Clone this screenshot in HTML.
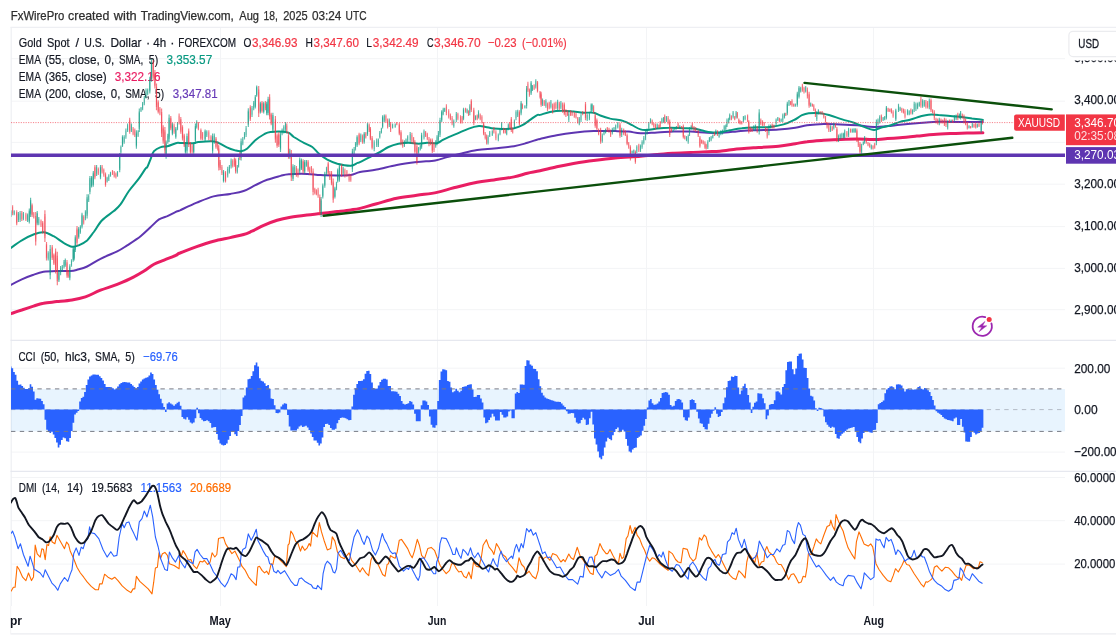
<!DOCTYPE html>
<html lang="en"><head><meta charset="utf-8"><title>XAUUSD chart</title>
<style>html,body{margin:0;padding:0;background:#fff;}body{width:1116px;height:639px;overflow:hidden;position:relative;font-family:"Liberation Sans", Arial, sans-serif;}svg{position:absolute;left:0;top:0;display:block;}text{font-family:"Liberation Sans", Arial, sans-serif;}</style>
</head><body>
<svg width="1116" height="639" viewBox="0 0 1116 639">
<rect width="1116" height="639" fill="#fff"/>
<g stroke="#f3f4f6" stroke-width="1" fill="none">
<path d="M11 58.7H1065"/>
<path d="M11 101.2H1065"/>
<path d="M11 142.4H1065"/>
<path d="M11 184.2H1065"/>
<path d="M11 226.6H1065"/>
<path d="M11 268.4H1065"/>
<path d="M11 309.7H1065"/>
<path d="M11 368.2H1065"/>
<path d="M11 452.1H1065"/>
<path d="M11 477.5H1065"/>
<path d="M11 520.7H1065"/>
<path d="M11 564.1H1065"/>
<path d="M220.5 27V606"/>
<path d="M437.5 27V606"/>
<path d="M646.5 27V606"/>
<path d="M873.5 27V606"/>
</g>
<g stroke="#eeeff3" stroke-width="1.2" fill="none">
<path d="M10.5 27.3H1116"/>
<path d="M11.2 27V606"/>
</g>
<g stroke="#e6e8ef" stroke-width="1.3" fill="none">
<path d="M10.5 340.3H1116"/>
<path d="M10.5 471.4H1116"/>
</g>
<path d="M10.5 633.9H1116" stroke="#ebecf0" stroke-width="1.3" fill="none"/>
<path d="M10.7 606V634" stroke="#f4f4f6" stroke-width="1" fill="none"/>
<rect x="11" y="389" width="1054" height="42.4" fill="#2196f3" fill-opacity="0.1"/>
<text y="47.3" font-size="12.70" fill="#131722" stroke-width="0.20"><tspan x="18.8" textLength="22.9" lengthAdjust="spacingAndGlyphs" stroke="#131722">Gold</tspan> <tspan x="47.0" textLength="22.6" lengthAdjust="spacingAndGlyphs" stroke="#131722">Spot</tspan> <tspan x="75.6" stroke="#131722">/</tspan> <tspan x="84.3" textLength="20.5" lengthAdjust="spacingAndGlyphs" stroke="#131722">U.S.</tspan> <tspan x="110.4" textLength="31.1" lengthAdjust="spacingAndGlyphs" stroke="#131722">Dollar</tspan> <tspan x="145.9" stroke="#131722">·</tspan> <tspan x="153.2" textLength="12.9" lengthAdjust="spacingAndGlyphs" stroke="#131722">4h</tspan> <tspan x="170.2" stroke="#131722">·</tspan> <tspan x="178.3" textLength="57.7" lengthAdjust="spacingAndGlyphs" stroke="#131722">FOREXCOM</tspan> <tspan x="243.5" textLength="7.9" lengthAdjust="spacingAndGlyphs" stroke="#131722">O</tspan><tspan x="252.0" textLength="45.5" lengthAdjust="spacingAndGlyphs" fill="#f23645" stroke="#f23645">3,346.93</tspan> <tspan x="305.4" textLength="7.4" lengthAdjust="spacingAndGlyphs" stroke="#131722">H</tspan><tspan x="313.6" textLength="45.4" lengthAdjust="spacingAndGlyphs" fill="#f23645" stroke="#f23645">3,347.60</tspan> <tspan x="366.3" textLength="5.7" lengthAdjust="spacingAndGlyphs" stroke="#131722">L</tspan><tspan x="372.8" textLength="45.8" lengthAdjust="spacingAndGlyphs" fill="#f23645" stroke="#f23645">3,342.49</tspan> <tspan x="426.9" textLength="6.6" lengthAdjust="spacingAndGlyphs" stroke="#131722">C</tspan><tspan x="434.0" textLength="46.6" lengthAdjust="spacingAndGlyphs" fill="#f23645" stroke="#f23645">3,346.70</tspan> <tspan x="487.8" textLength="28.7" lengthAdjust="spacingAndGlyphs" fill="#f23645" stroke="#f23645">−0.23</tspan> <tspan x="521.9" textLength="44.8" lengthAdjust="spacingAndGlyphs" fill="#f23645" stroke="#f23645">(−0.01%)</tspan></text>
<text y="64.4" font-size="12.70" fill="#131722" stroke-width="0.20"><tspan x="18.8" textLength="21.6" lengthAdjust="spacingAndGlyphs" stroke="#131722">EMA</tspan> <tspan x="44.9" textLength="19.7" lengthAdjust="spacingAndGlyphs" stroke="#131722">(55,</tspan> <tspan x="69.0" textLength="30.7" lengthAdjust="spacingAndGlyphs" stroke="#131722">close,</tspan> <tspan x="104.5" textLength="9.7" lengthAdjust="spacingAndGlyphs" stroke="#131722">0,</tspan> <tspan x="118.9" textLength="24.3" lengthAdjust="spacingAndGlyphs" stroke="#131722">SMA,</tspan> <tspan x="148.8" textLength="9.4" lengthAdjust="spacingAndGlyphs" stroke="#131722">5)</tspan> <tspan x="166.4" textLength="45.8" lengthAdjust="spacingAndGlyphs" fill="#089981" stroke="#089981">3,353.57</tspan></text>
<text y="81.0" font-size="12.70" fill="#131722" stroke-width="0.20"><tspan x="18.8" textLength="21.6" lengthAdjust="spacingAndGlyphs" stroke="#131722">EMA</tspan> <tspan x="44.9" textLength="26.0" lengthAdjust="spacingAndGlyphs" stroke="#131722">(365,</tspan> <tspan x="75.3" textLength="31.3" lengthAdjust="spacingAndGlyphs" stroke="#131722">close)</tspan> <tspan x="114.8" textLength="45.6" lengthAdjust="spacingAndGlyphs" fill="#e91e63" stroke="#e91e63">3,322.16</tspan></text>
<text y="97.8" font-size="12.70" fill="#131722" stroke-width="0.20"><tspan x="18.8" textLength="21.6" lengthAdjust="spacingAndGlyphs" stroke="#131722">EMA</tspan> <tspan x="44.9" textLength="26.0" lengthAdjust="spacingAndGlyphs" stroke="#131722">(200,</tspan> <tspan x="75.3" textLength="30.7" lengthAdjust="spacingAndGlyphs" stroke="#131722">close,</tspan> <tspan x="110.8" textLength="9.6" lengthAdjust="spacingAndGlyphs" stroke="#131722">0,</tspan> <tspan x="125.2" textLength="24.2" lengthAdjust="spacingAndGlyphs" stroke="#131722">SMA,</tspan> <tspan x="155.1" textLength="9.0" lengthAdjust="spacingAndGlyphs" stroke="#131722">5)</tspan> <tspan x="172.7" textLength="44.9" lengthAdjust="spacingAndGlyphs" fill="#673ab7" stroke="#673ab7">3,347.81</tspan></text>
<text y="361.0" font-size="12.70" fill="#131722" stroke-width="0.20"><tspan x="18.4" textLength="17.1" lengthAdjust="spacingAndGlyphs" stroke="#131722">CCI</tspan> <tspan x="40.7" textLength="18.7" lengthAdjust="spacingAndGlyphs" stroke="#131722">(50,</tspan> <tspan x="65.0" textLength="25.4" lengthAdjust="spacingAndGlyphs" stroke="#131722">hlc3,</tspan> <tspan x="95.1" textLength="25.1" lengthAdjust="spacingAndGlyphs" stroke="#131722">SMA,</tspan> <tspan x="125.2" textLength="9.6" lengthAdjust="spacingAndGlyphs" stroke="#131722">5)</tspan> <tspan x="143.1" textLength="34.7" lengthAdjust="spacingAndGlyphs" fill="#2962ff" stroke="#2962ff">−69.76</tspan></text>
<text y="491.8" font-size="12.70" fill="#131722" stroke-width="0.20"><tspan x="18.8" textLength="18.0" lengthAdjust="spacingAndGlyphs" stroke="#131722">DMI</tspan> <tspan x="41.9" textLength="18.0" lengthAdjust="spacingAndGlyphs" stroke="#131722">(14,</tspan> <tspan x="67.0" textLength="15.9" lengthAdjust="spacingAndGlyphs" stroke="#131722">14)</tspan> <tspan x="91.2" textLength="41.1" lengthAdjust="spacingAndGlyphs" stroke="#131722">19.5683</tspan> <tspan x="140.6" textLength="41.1" lengthAdjust="spacingAndGlyphs" fill="#2962ff" stroke="#2962ff">11.1563</tspan> <tspan x="190.0" textLength="41.1" lengthAdjust="spacingAndGlyphs" fill="#ff6d00" stroke="#ff6d00">20.6689</tspan></text>
<clipPath id="plot"><rect x="11" y="27" width="1054" height="579"/></clipPath>
<g clip-path="url(#plot)">
<path d="M10.9 313.7C12.7 313.0 18.0 311.2 21.8 310.0C25.5 308.7 29.9 307.2 33.5 306.1C37.1 305.0 39.6 304.0 43.5 303.3C47.4 302.5 52.2 302.2 56.9 301.6C61.7 301.1 67.2 300.7 72.0 299.9C76.7 299.2 80.6 298.5 85.4 296.9C90.1 295.3 95.1 292.3 100.5 290.2C105.8 288.1 111.6 286.6 117.2 284.4C122.8 282.1 129.5 279.1 133.9 276.8C138.4 274.6 140.6 273.1 144.0 271.0C147.3 268.9 150.7 266.1 154.0 264.3C157.4 262.5 160.4 261.6 164.1 260.1C167.7 258.6 173.1 256.6 175.8 255.4C178.4 254.2 176.5 254.4 180.0 253.0C183.5 251.5 191.2 248.6 196.7 246.6C202.3 244.6 207.9 242.7 213.5 241.2C219.1 239.7 225.2 238.7 230.2 237.6C235.2 236.4 240.0 235.6 243.6 234.5C247.2 233.5 248.6 232.7 252.0 231.2C255.3 229.7 259.5 227.2 263.7 225.3C267.9 223.5 272.6 221.7 277.1 220.3C281.6 219.0 285.5 218.2 290.5 217.3C295.5 216.4 302.2 215.6 307.2 215.0C312.3 214.3 315.6 214.2 320.6 213.6C325.7 213.1 332.3 212.2 337.4 211.6C342.4 211.0 347.0 210.5 350.8 209.9C354.5 209.4 355.7 209.4 360.0 208.4C364.3 207.3 370.6 205.3 376.7 203.7C382.9 202.0 390.1 199.7 396.8 198.3C403.5 196.9 410.2 196.3 416.9 195.3C423.6 194.3 430.9 193.7 437.0 192.4C443.2 191.2 447.1 189.5 453.8 187.8C460.5 186.1 470.5 183.5 477.2 182.2C483.9 180.9 487.8 180.8 493.9 179.9C500.1 179.0 508.4 178.0 514.0 176.9C519.6 175.8 523.1 174.2 527.4 173.2C531.7 172.2 535.1 171.9 540.0 170.8C544.9 169.7 551.2 168.0 556.7 166.8C562.3 165.5 567.3 164.5 573.5 163.4C579.6 162.4 586.6 161.3 593.6 160.4C600.5 159.5 607.5 158.6 615.3 157.9C623.2 157.2 633.5 156.8 640.5 156.2C647.4 155.7 651.6 155.0 657.2 154.5C662.8 154.0 668.4 153.6 673.9 153.2C679.5 152.8 685.1 152.6 690.7 152.4C696.3 152.1 702.5 151.9 707.4 151.7C712.3 151.5 715.1 151.6 720.0 151.2C724.9 150.8 731.2 149.6 736.7 149.0C742.3 148.5 746.5 148.3 753.5 147.8C760.5 147.4 771.6 146.9 778.6 146.2C785.6 145.5 790.6 144.4 795.3 143.7C800.1 142.9 802.3 142.2 807.1 141.7C811.8 141.1 818.2 140.7 823.8 140.3C829.4 140.0 835.0 139.7 840.5 139.5C846.1 139.3 851.7 139.1 857.3 139.1C862.9 139.1 869.0 139.6 874.0 139.5C879.0 139.4 883.1 138.9 887.4 138.6C891.7 138.4 895.1 138.2 900.0 137.8C904.9 137.4 911.2 136.7 916.7 136.1C922.3 135.6 927.9 134.9 933.5 134.5C939.1 134.0 944.6 133.8 950.2 133.6C955.8 133.4 961.5 133.3 967.0 133.1C972.4 133.0 980.2 132.8 982.9 132.8" stroke="#e91e63" stroke-width="3" fill="none" stroke-linejoin="round" stroke-linecap="round"/>
<path d="M10.9 284.9C12.7 283.9 18.0 281.0 21.8 279.3C25.5 277.6 29.9 275.9 33.5 274.7C37.1 273.4 39.6 272.4 43.5 271.8C47.4 271.2 52.5 271.1 56.9 271.0C61.4 270.8 67.0 271.2 70.3 271.0C73.7 270.8 74.2 270.6 77.0 269.8C79.8 269.0 83.2 268.3 87.1 266.5C91.0 264.6 95.4 261.3 100.5 258.8C105.5 256.2 112.7 253.6 117.2 251.4C121.7 249.2 123.3 247.9 127.2 245.4C131.1 242.8 136.7 239.2 140.6 236.2C144.5 233.1 147.6 229.8 150.7 227.0C153.7 224.2 156.3 221.2 159.0 219.4C161.8 217.6 164.6 217.3 167.4 216.1C170.2 214.8 173.7 212.9 175.8 211.9C177.9 210.9 176.5 211.8 180.0 210.3C183.5 208.7 191.2 205.1 196.7 202.7C202.3 200.4 207.9 197.9 213.5 196.4C219.1 194.9 225.2 194.8 230.2 193.9C235.2 193.0 239.4 192.5 243.6 191.0C247.8 189.6 251.4 187.0 255.3 185.2C259.2 183.3 262.9 181.3 267.1 179.8C271.2 178.3 276.8 176.9 280.5 175.9C284.1 175.0 284.4 174.6 288.8 174.3C293.3 173.9 301.9 173.8 307.2 173.9C312.5 174.1 315.6 174.9 320.6 175.1C325.7 175.4 332.3 175.4 337.4 175.4C342.4 175.4 347.0 175.7 350.8 175.1C354.5 174.6 355.7 173.0 360.0 172.1C364.3 171.2 370.6 170.8 376.7 169.6C382.9 168.4 390.1 166.3 396.8 165.1C403.5 163.8 410.5 162.9 416.9 162.1C423.3 161.3 430.3 161.2 435.3 160.4C440.4 159.6 442.9 158.2 447.1 157.1C451.2 155.9 455.4 154.9 460.5 153.7C465.5 152.5 471.6 150.9 477.2 150.0C482.8 149.1 487.8 149.0 493.9 148.4C500.1 147.7 508.4 147.1 514.0 146.2C519.6 145.3 523.5 143.9 527.4 142.8C531.3 141.7 535.4 140.1 537.5 139.5C539.6 138.8 536.8 139.7 540.0 139.0C543.2 138.3 551.2 136.3 556.7 135.3C562.3 134.3 567.3 133.5 573.5 132.8C579.6 132.1 586.6 131.4 593.6 131.1C600.5 130.8 609.5 131.0 615.3 131.1C621.2 131.2 624.5 131.2 628.7 131.6C632.9 132.0 635.7 133.1 640.5 133.3C645.2 133.4 651.6 132.7 657.2 132.4C662.8 132.2 668.4 131.7 673.9 131.6C679.5 131.5 685.1 131.4 690.7 131.6C696.3 131.8 702.5 132.6 707.4 132.8C712.3 133.0 715.1 133.0 720.0 132.8C724.9 132.6 731.2 131.9 736.7 131.4C742.3 131.0 746.5 130.6 753.5 130.3C760.5 129.9 771.6 129.9 778.6 129.4C785.6 129.0 790.6 128.5 795.3 127.8C800.1 127.1 802.3 125.9 807.1 125.2C811.8 124.6 818.2 124.0 823.8 123.9C829.4 123.8 835.0 124.2 840.5 124.4C846.1 124.6 851.7 124.8 857.3 125.2C862.9 125.7 869.0 126.8 874.0 126.9C879.0 127.1 883.1 126.4 887.4 126.1C891.7 125.7 895.1 125.2 900.0 124.7C904.9 124.3 911.2 123.7 916.7 123.2C922.3 122.8 927.9 122.1 933.5 121.9C939.1 121.7 944.6 121.9 950.2 121.9C955.8 121.9 961.5 121.9 967.0 121.9C972.4 121.9 980.2 121.9 982.9 121.9" stroke="#5e35b1" stroke-width="2" fill="none" stroke-linejoin="round" stroke-linecap="round"/>
<path d="M10.9 247.9C12.7 246.6 18.0 242.6 21.8 240.4C25.5 238.1 29.9 235.8 33.5 234.5C37.1 233.2 40.2 232.0 43.5 232.3C46.9 232.6 50.2 234.4 53.6 236.2C56.9 237.9 60.5 241.1 63.6 242.9C66.7 244.6 69.5 246.3 72.0 246.7C74.5 247.1 76.2 246.4 78.7 245.4C81.2 244.3 84.5 242.6 87.1 240.4C89.6 238.1 91.2 235.3 93.8 232.0C96.3 228.6 98.8 223.8 102.1 220.3C105.5 216.8 110.8 213.7 113.8 211.1C116.9 208.4 118.0 207.7 120.5 204.4C123.1 201.0 125.8 195.3 128.9 191.0C132.0 186.6 136.2 182.2 139.0 178.4C141.7 174.6 144.3 170.2 145.7 168.4C147.0 166.5 146.5 168.7 147.3 167.1C148.2 165.5 149.6 161.4 150.7 158.8C151.8 156.1 152.3 153.2 154.0 151.2C155.7 149.3 158.5 147.9 160.7 147.1C163.0 146.2 164.9 146.9 167.4 146.2C169.9 145.6 173.7 143.8 175.8 143.2C177.9 142.6 177.0 142.9 180.0 142.9C182.9 142.9 190.3 143.3 193.4 143.2C196.5 143.0 195.3 142.3 198.4 142.0C201.5 141.7 208.5 141.0 211.8 141.2C215.2 141.3 216.0 141.8 218.5 142.8C221.0 143.9 224.1 146.1 226.9 147.3C229.7 148.6 232.9 149.7 235.2 150.4C237.6 151.0 239.2 151.5 241.1 151.2C243.1 150.9 244.6 150.5 247.0 148.7C249.3 146.9 252.5 142.7 255.3 140.3C258.1 137.9 261.2 135.9 263.7 134.5C266.2 133.1 266.5 132.3 270.4 131.9C274.3 131.6 283.2 131.4 287.1 132.3C291.1 133.1 291.1 135.2 293.8 137.0C296.6 138.7 300.8 141.2 303.9 142.8C307.0 144.5 309.7 145.2 312.3 147.0C314.8 148.8 316.4 151.6 319.0 153.7C321.5 155.8 324.3 157.9 327.3 159.6C330.4 161.2 333.5 162.7 337.4 163.8C341.3 164.8 347.4 165.9 350.8 165.8C354.1 165.6 355.9 163.5 357.5 162.9C359.0 162.3 357.9 163.1 360.0 162.1C362.1 161.1 366.7 158.7 370.0 157.1C373.4 155.4 377.0 153.7 380.1 152.0C383.2 150.4 385.4 148.4 388.5 147.0C391.5 145.6 395.2 144.4 398.5 143.7C401.9 143.0 405.2 142.8 408.6 142.8C411.9 142.8 415.5 143.7 418.6 143.7C421.7 143.7 423.9 142.9 427.0 142.8C430.0 142.7 434.5 143.6 437.0 143.2C439.5 142.7 440.4 141.2 442.0 140.3C443.7 139.4 444.5 138.9 447.1 137.8C449.6 136.7 453.5 135.2 457.1 133.6C460.7 132.1 465.2 129.9 468.8 128.6C472.4 127.3 476.1 126.4 478.9 126.1C481.7 125.8 483.1 126.5 485.6 126.9C488.1 127.3 490.6 128.3 493.9 128.6C497.3 128.9 502.3 129.0 505.7 128.9C509.0 128.9 511.2 128.9 514.0 128.3C516.8 127.6 519.6 126.7 522.4 125.2C525.2 123.8 528.3 121.1 530.8 119.4C533.3 117.7 535.9 115.6 537.5 114.9C539.0 114.1 537.9 115.4 540.0 114.9C542.1 114.4 546.4 112.6 550.0 111.9C553.7 111.2 557.9 110.7 561.8 110.7C565.7 110.6 569.9 111.2 573.5 111.5C577.1 111.9 580.2 112.5 583.5 112.7C586.9 112.9 590.8 112.2 593.6 112.7C596.4 113.2 597.5 114.6 600.3 115.5C603.1 116.5 606.4 117.6 610.3 118.6C614.2 119.5 620.1 119.9 623.7 121.1C627.3 122.2 629.3 123.9 632.1 125.2C634.9 126.6 637.9 128.7 640.5 129.4C643.0 130.2 644.4 130.1 647.1 129.9C649.9 129.8 653.6 129.0 657.2 128.6C660.8 128.2 664.7 127.8 668.9 127.8C673.1 127.7 678.1 128.1 682.3 128.3C686.5 128.4 690.7 128.2 694.0 128.6C697.4 129.0 699.6 130.0 702.4 130.6C705.2 131.2 707.8 132.0 710.8 132.3C713.7 132.6 716.8 132.6 720.0 132.3C723.2 131.9 726.4 130.9 730.0 130.3C733.7 129.6 737.9 128.7 741.8 128.3C745.7 127.8 748.7 127.6 753.5 127.4C758.2 127.2 765.2 127.4 770.2 126.9C775.2 126.4 779.7 125.5 783.6 124.4C787.5 123.3 790.6 121.8 793.7 120.2C796.7 118.7 799.5 116.4 802.0 115.2C804.5 114.0 805.7 113.5 808.7 113.2C811.8 112.9 816.8 112.8 820.5 113.2C824.1 113.6 826.9 114.5 830.5 115.5C834.1 116.6 838.3 118.2 842.2 119.4C846.1 120.6 850.3 121.5 853.9 122.7C857.6 124.0 860.6 125.7 864.0 126.9C867.3 128.1 871.2 129.8 874.0 129.9C876.8 130.1 877.9 128.5 880.7 127.8C883.5 127.0 887.6 126.2 890.8 125.2C894.0 124.3 896.8 122.8 900.0 121.9C903.2 121.0 906.7 120.6 910.0 119.7C913.4 118.8 917.0 117.4 920.1 116.5C923.2 115.7 925.4 115.0 928.5 114.7C931.5 114.4 934.9 114.6 938.5 114.9C942.1 115.1 946.3 115.7 950.2 116.0C954.1 116.4 958.3 116.5 961.9 116.9C965.6 117.3 968.5 118.0 972.0 118.6C975.5 119.1 981.1 119.7 982.9 119.9" stroke="#089981" stroke-width="2" fill="none" stroke-linejoin="round" stroke-linecap="round"/>
<path d="M10.9 210.2V216.9M14.2 210.2V215.2M18.4 211.9V221.9M20.1 211.1V221.9M23.4 211.9V220.3M27.6 213.6V221.9M29.3 208.6V223.6M30.6 197.7V216.9M37.2 211.1V225.3M38.8 216.9V225.3M48.2 251.2V260.5M50.2 245.0V279.3M58.9 270.1V281.9M60.6 265.9V275.2M62.3 265.1V271.8M64.0 260.1V268.5M65.3 258.4V266.8M69.8 264.3V280.2M71.5 259.3V266.8M73.2 246.7V261.8M74.2 247.1V260.5M75.3 235.3V252.1M78.7 227.0V238.7M80.4 225.3V233.7M82.0 212.7V228.6M85.4 210.2V220.3M87.1 194.3V218.6M88.7 194.3V201.9M89.9 175.9V194.3M91.6 175.9V187.6M93.3 170.9V186.8M96.6 165.0V175.9M100.5 165.0V179.3M107.1 176.7V182.6M108.8 174.2V180.9M110.5 171.7V176.7M117.5 170.9V176.7M119.7 152.9V172.2M120.9 145.4V153.8M122.5 135.3V147.1M124.2 135.3V143.7M125.9 128.6V138.7M127.6 123.6V132.0M131.4 123.6V132.0M136.4 130.3V148.7M138.1 130.3V137.0M139.3 108.6V132.0M141.0 106.9V111.9M142.6 101.9V110.2M144.3 96.0V105.2M146.0 88.5V98.5M147.7 88.5V95.2M149.8 76.7V93.5M151.5 59.0V81.8M166.1 140.4V158.8M167.8 133.7V143.7M169.1 114.4V142.0M172.4 122.8V135.3M175.8 127.0V138.7M177.5 121.9V130.3M185.4 142.0V153.7M187.0 133.6V153.7M193.7 142.0V153.7M195.4 123.6V143.7M196.7 120.2V128.6M205.1 129.4V141.2M206.8 130.3V137.0M212.6 133.6V153.7M214.3 133.6V143.7M223.5 170.1V182.6M227.7 166.7V177.6M229.4 165.1V173.4M231.1 158.4V168.4M237.3 165.1V173.4M238.6 157.5V167.6M241.1 138.6V160.4M242.8 137.0V145.3M244.5 131.9V139.5M246.1 126.1V137.0M248.3 108.2V126.9M252.0 106.0V116.9M253.7 101.0V110.2M255.3 95.1V108.5M256.7 85.4V96.8M260.4 101.8V113.5M263.7 101.8V113.5M266.7 101.8V115.2M268.1 96.8V115.2M272.9 112.7V132.8M280.5 131.9V152.0M282.1 128.6V135.3M283.8 125.2V133.6M285.5 121.9V131.1M289.8 148.7V158.7M293.0 164.2V181.0M294.7 165.1V175.1M299.7 157.5V173.4M301.4 158.4V170.1M304.7 160.0V173.4M306.4 160.0V166.7M321.1 196.9V217.0M322.8 183.5V198.6M324.8 171.8V187.7M326.5 166.7V175.1M334.9 186.8V198.6M336.5 181.8V190.2M337.7 168.4V182.6M339.4 164.2V181.8M343.2 166.7V175.1M352.4 148.7V172.1M354.1 147.0V157.1M355.5 142.0V150.4M357.1 135.3V147.0M360.8 133.6V142.0M364.2 131.9V143.7M367.5 122.7V136.1M374.2 140.3V151.2M376.7 138.6V147.0M378.4 138.6V147.0M379.8 131.1V138.6M381.4 127.8V133.6M382.6 115.2V128.6M384.3 114.4V121.9M389.3 118.6V126.9M392.6 123.6V128.6M395.2 123.6V127.8M404.4 140.3V147.0M406.0 138.6V143.7M407.7 135.3V142.0M410.2 131.9V142.0M418.6 147.0V153.7M420.3 144.5V150.4M421.6 132.8V148.7M424.0 129.4V139.5M435.7 140.3V147.8M437.0 135.3V145.3M438.4 131.1V142.0M440.0 117.7V137.0M441.7 110.2V121.9M443.2 107.7V115.2M444.7 107.7V111.9M453.8 119.4V127.8M456.3 111.9V121.9M463.5 107.7V120.2M467.1 108.5V113.5M469.8 104.3V115.2M475.5 115.2V120.2M478.5 110.2V118.6M488.1 135.3V144.5M489.7 131.1V137.0M492.3 130.3V136.1M498.3 133.6V141.2M500.0 128.6V135.3M501.6 121.9V130.3M506.7 128.6V135.3M508.3 123.6V130.3M514.4 119.4V128.6M516.0 110.2V120.2M517.7 109.8V116.9M521.1 101.0V115.2M524.9 105.2V108.5M526.6 85.9V108.5M531.1 80.9V95.1M532.4 85.1V90.9M535.8 79.2V88.4M542.5 98.5V106.0M545.9 99.3V107.7M550.9 100.1V108.5M557.6 99.8V110.2M560.9 101.0V109.3M568.8 111.9V121.9M579.3 116.9V125.2M581.0 113.5V121.9M587.2 113.5V121.1M589.4 111.9V120.2M591.1 103.5V111.9M592.2 103.5V111.0M602.3 133.6V142.8M604.0 130.3V135.3M605.6 128.6V133.6M612.3 127.8V134.5M614.0 126.9V131.9M615.7 124.4V130.3M617.8 121.9V128.6M621.7 127.8V137.0M632.1 150.4V153.7M633.8 149.5V153.7M636.8 145.3V152.9M640.5 144.5V152.0M642.1 140.3V148.7M643.8 136.1V144.5M645.5 131.1V140.3M647.1 128.6V134.5M648.8 121.9V130.3M650.5 118.2V123.6M657.2 123.6V128.6M661.9 117.7V123.6M663.6 116.9V122.7M666.4 116.0V121.9M673.1 128.6V131.9M674.8 126.9V130.3M676.4 126.1V129.4M679.8 125.2V128.6M686.5 136.1V141.2M688.2 134.5V143.7M689.5 126.9V136.1M691.2 125.2V129.4M707.8 140.3V149.0M709.4 137.0V142.0M711.1 136.1V141.2M712.8 134.5V138.6M715.8 129.4V135.3M719.1 132.8V137.8M720.8 130.3V135.3M722.5 129.4V134.5M724.2 125.2V131.1M725.8 124.4V130.3M727.0 118.6V126.9M728.7 117.7V123.6M729.7 113.5V120.2M733.1 111.0V118.6M736.1 111.0V118.6M743.4 116.0V121.9M745.1 115.2V120.2M753.8 125.2V131.1M755.5 124.4V130.3M759.2 109.3V134.5M768.9 124.4V135.3M770.6 124.4V128.6M776.1 118.6V125.2M777.8 116.9V121.1M781.1 118.6V121.9M782.8 113.5V121.9M784.5 112.7V118.6M787.3 101.8V115.2M789.0 100.1V106.0M795.3 103.5V106.8M797.3 91.8V106.8M799.0 85.9V98.5M800.7 86.7V92.6M805.7 85.9V92.6M810.7 102.6V106.8M816.8 111.0V121.1M818.4 109.3V114.4M830.5 125.2V131.9M833.8 122.7V129.4M838.5 134.5V142.0M840.2 133.6V139.5M841.9 132.8V138.6M843.6 132.8V138.6M844.7 129.4V138.6M848.6 127.8V137.0M852.3 128.6V132.8M853.9 128.3V132.8M855.3 128.3V132.8M861.6 143.7V153.7M863.3 141.2V145.3M864.6 136.1V143.7M871.3 144.5V149.5M876.4 119.4V145.3M878.0 118.6V125.2M879.7 115.2V123.6M883.1 116.9V121.1M884.7 116.0V120.2M886.4 106.0V119.4M895.8 108.8V121.1M898.5 103.8V111.9M900.1 106.8V111.0M907.5 109.3V115.2M909.2 110.2V115.2M912.6 109.3V114.4M914.2 101.8V111.9M915.9 102.6V111.0M917.6 102.6V109.3M919.3 101.8V106.8M922.6 99.3V107.7M924.3 100.1V106.8M929.3 98.5V109.3M939.3 117.7V125.2M947.7 120.2V129.4M951.1 119.4V122.7M954.4 115.2V121.1M956.1 114.4V120.2M959.4 113.5V118.6M960.6 111.0V119.4M969.0 125.2V128.6M972.3 122.7V127.8M977.3 123.6V127.8M981.2 120.2V132.8" stroke="#089981" stroke-width="1.15" stroke-opacity="0.66" fill="none"/>
<path d="M12.6 205.2V215.2M16.7 210.2V225.3M21.8 211.1V221.1M25.9 212.7V221.1M32.1 203.5V216.9M33.8 211.9V218.6M35.7 211.9V245.4M41.0 219.4V227.0M42.7 221.1V233.7M44.9 210.2V242.0M46.5 242.0V260.5M52.2 245.0V260.1M53.9 253.4V265.1M55.6 248.4V273.5M57.3 251.7V285.2M67.0 260.1V277.7M68.3 270.1V277.7M77.0 226.1V245.4M83.7 215.2V224.5M94.9 165.0V179.3M98.3 167.5V175.1M102.1 165.0V173.4M103.8 168.4V176.7M105.5 172.6V186.8M112.5 170.0V175.1M114.2 170.9V177.6M115.9 172.6V178.4M129.7 117.8V133.7M133.1 127.0V135.3M134.8 128.6V137.0M153.2 60.0V80.1M154.9 70.0V88.5M156.5 83.4V110.2M158.2 100.2V113.6M159.9 106.9V115.2M161.6 108.6V137.0M163.2 125.3V143.7M164.9 127.0V153.8M170.8 116.1V130.3M174.1 123.6V133.7M179.1 113.6V124.5M180.8 116.9V133.7M182.5 125.3V140.4M184.2 133.7V147.1M188.7 128.6V147.0M190.4 142.0V153.7M192.1 143.7V153.7M198.4 121.9V130.3M200.9 128.6V140.3M202.6 131.9V140.3M208.8 130.3V140.3M211.0 135.3V142.0M216.0 137.0V148.7M217.7 142.0V150.4M218.8 145.3V170.5M220.2 160.0V170.1M221.9 165.1V175.1M225.5 170.9V182.6M232.7 159.2V167.6M234.4 157.5V166.7M235.6 158.4V173.4M239.9 151.7V160.0M250.3 105.2V121.1M258.7 85.9V116.9M262.0 101.0V112.7M265.4 101.0V110.2M269.6 94.3V119.4M271.2 112.7V125.2M275.4 116.0V142.8M277.1 133.6V147.8M278.8 131.9V147.0M286.8 123.6V133.6M288.5 131.9V158.7M291.3 150.0V181.0M296.4 165.9V176.8M298.0 168.4V177.6M303.1 159.2V173.4M308.1 160.0V171.8M309.7 166.7V175.1M311.4 165.9V173.4M313.1 168.4V195.2M314.8 187.7V194.4M316.4 189.3V195.2M318.1 187.7V197.7M319.8 194.4V215.3M328.2 161.7V175.1M329.8 170.9V180.1M331.5 170.9V185.2M333.2 178.5V202.7M341.6 164.2V176.8M344.9 168.4V177.6M346.9 170.1V176.8M349.1 173.4V181.8M350.8 174.3V181.8M359.1 132.8V145.3M362.5 134.5V143.7M365.8 131.9V138.6M369.2 123.6V131.9M370.4 126.9V140.3M372.1 136.1V149.5M385.9 114.4V122.7M387.6 118.6V128.6M390.6 121.9V131.9M396.8 121.9V125.2M399.3 122.7V135.3M401.0 130.3V145.3M402.7 139.5V147.8M411.9 132.8V143.7M413.6 137.0V143.7M414.9 140.3V153.7M416.9 143.7V164.6M425.6 131.1V137.0M427.3 132.8V140.3M429.0 137.0V146.2M430.6 138.6V145.3M432.3 138.6V152.9M434.0 142.0V152.0M446.4 104.3V115.2M448.7 109.3V118.6M450.4 113.5V120.2M452.1 116.0V125.2M457.9 112.7V120.2M460.5 115.2V123.6M462.1 116.0V123.6M465.5 107.7V112.7M468.5 110.2V116.0M471.3 99.3V111.9M473.8 107.7V125.2M477.2 114.4V120.2M480.2 113.5V120.2M481.9 115.2V123.6M483.6 121.9V135.3M485.2 131.9V139.5M486.6 134.5V144.5M493.9 126.9V133.6M495.9 130.3V140.3M503.6 127.8V133.6M505.3 128.6V133.6M509.8 121.9V128.6M511.3 116.9V131.9M512.7 127.8V133.6M519.4 110.2V125.2M522.4 103.5V109.3M527.9 81.7V91.8M529.4 88.4V96.8M534.1 84.2V90.1M537.5 80.9V92.6M540.0 90.9V98.5M541.1 91.8V106.8M544.2 100.1V106.0M547.5 102.6V111.0M549.2 101.8V109.3M552.6 103.5V113.5M554.2 102.6V110.2M555.9 101.8V109.3M559.3 101.8V110.2M562.6 102.6V112.7M564.3 102.6V115.2M565.9 109.3V116.9M567.6 110.2V116.0M570.5 110.2V116.0M572.1 111.0V116.0M574.3 111.9V117.7M576.0 112.7V118.6M577.7 116.9V123.6M582.7 111.0V115.2M585.5 102.1V120.2M593.6 105.2V113.5M595.2 113.5V127.8M596.9 118.6V130.3M598.6 128.6V135.3M600.6 127.8V143.7M607.3 126.9V131.9M609.0 127.8V132.8M610.6 129.4V137.0M620.0 122.7V137.8M623.7 128.6V135.3M625.4 130.3V136.1M627.1 133.6V145.3M628.7 142.0V148.7M630.4 145.3V160.4M635.4 150.4V163.8M638.8 143.7V152.0M652.2 119.4V125.2M653.8 122.7V127.8M655.5 123.6V129.4M658.9 124.4V128.6M660.2 121.1V127.8M664.7 114.4V123.6M668.1 116.0V124.4M669.7 119.4V137.0M671.4 127.8V131.9M678.1 122.7V128.6M681.5 126.1V128.6M683.3 124.4V138.6M684.8 135.3V139.5M692.3 122.7V128.6M694.0 126.1V131.1M695.7 126.9V131.9M698.2 129.4V137.0M699.9 136.1V147.8M701.6 139.5V143.7M703.2 140.3V144.5M704.9 141.2V148.7M706.2 143.7V149.5M714.4 131.9V136.1M717.5 130.3V136.1M731.4 115.2V120.2M734.7 116.0V120.2M737.4 111.9V118.6M738.8 118.6V123.6M740.1 120.2V124.4M741.8 121.1V124.4M747.6 114.4V121.9M748.8 120.2V133.6M750.5 126.9V131.9M752.1 127.8V131.9M757.2 126.1V132.8M760.8 118.6V125.2M762.5 120.2V126.1M764.2 121.9V126.1M765.5 126.9V131.9M767.2 127.8V138.6M772.2 123.6V128.6M773.9 124.4V128.6M779.4 117.7V121.9M785.8 112.7V116.0M790.6 101.0V105.2M792.0 99.3V106.8M793.7 103.5V106.8M802.4 83.7V91.8M804.0 86.7V93.4M807.4 87.6V98.5M809.1 91.8V107.7M812.4 103.5V106.8M813.8 104.3V111.0M815.4 108.5V116.9M820.1 111.0V114.4M822.1 111.0V114.4M823.8 112.7V118.6M825.5 116.0V122.7M827.1 121.9V128.6M828.8 123.6V131.9M832.2 126.1V131.1M835.5 123.6V127.8M836.9 126.9V142.0M846.9 131.1V137.0M850.6 128.6V132.8M856.9 128.6V142.0M858.3 138.6V147.0M860.0 142.0V153.7M866.3 137.8V143.7M868.0 142.0V146.2M869.7 142.8V147.8M873.0 145.3V149.5M874.7 142.8V148.7M881.4 114.4V121.9M888.1 107.7V111.9M889.8 108.5V111.9M891.4 108.2V113.5M893.1 110.2V117.7M901.8 107.7V112.7M903.5 108.5V113.5M905.0 109.3V118.6M910.9 108.5V114.4M920.9 96.8V107.7M925.9 100.1V108.5M927.6 101.0V108.5M931.0 98.5V111.9M932.6 109.3V113.5M934.3 110.2V120.2M936.0 117.7V123.6M937.7 118.6V124.4M941.0 118.6V123.6M942.7 119.4V123.6M944.4 117.7V126.1M946.0 118.6V126.9M949.4 119.4V122.7M952.7 119.4V122.7M957.8 112.7V120.2M962.3 113.5V118.6M964.0 114.4V123.6M965.6 118.6V125.2M967.3 121.9V129.4M970.6 126.1V128.6M974.0 123.6V127.8M975.7 122.7V128.6M979.0 122.7V126.9M982.5 120.2V124.4" stroke="#f23645" stroke-width="1.15" stroke-opacity="0.66" fill="none"/>
<path d="M10.9 211.6V215.6M14.2 211.2V214.2M18.4 213.9V219.9M20.1 213.2V219.8M23.4 213.6V218.6M27.6 215.2V220.3M29.3 211.6V220.6M30.6 201.5V213.1M37.2 213.9V222.4M38.8 218.6V223.6M48.2 253.1V258.6M50.2 251.9V272.5M58.9 272.5V279.5M60.6 267.8V273.3M62.3 266.5V270.5M64.0 261.8V266.8M65.3 260.1V265.1M69.8 267.5V277.0M71.5 260.8V265.3M73.2 249.7V258.8M74.2 249.7V257.8M75.3 238.7V248.7M78.7 229.3V236.3M80.4 227.0V232.0M82.0 215.9V225.5M85.4 212.2V218.3M87.1 199.2V213.7M88.7 195.8V200.3M89.9 179.6V190.6M91.6 178.2V185.3M93.3 174.1V183.6M96.6 167.2V173.7M100.5 167.9V176.4M107.1 177.9V181.4M108.8 175.6V179.6M110.5 172.7V175.7M117.5 172.1V175.6M119.7 156.8V168.3M120.9 147.1V152.1M122.5 137.7V144.7M124.2 137.0V142.0M125.9 130.6V136.7M127.6 125.3V130.3M131.4 125.3V130.3M136.4 134.0V145.0M138.1 131.7V135.7M139.3 113.2V127.3M141.0 107.9V110.9M142.6 103.5V108.6M144.3 97.8V103.4M146.0 90.5V96.5M147.7 89.8V93.8M149.8 80.1V90.1M151.5 63.5V77.2M166.1 144.0V155.1M167.8 135.7V141.7M169.1 119.9V136.5M172.4 125.3V132.8M175.8 129.3V136.3M177.5 123.6V128.6M185.4 144.3V151.4M187.0 137.6V149.7M193.7 144.3V151.4M195.4 127.6V139.6M196.7 121.9V126.9M205.1 131.8V138.8M206.8 131.6V135.6M212.6 137.6V149.7M214.3 135.6V141.7M223.5 172.6V180.1M227.7 168.9V175.4M229.4 166.7V171.8M231.1 160.4V166.4M237.3 166.7V171.8M238.6 159.5V165.6M241.1 143.0V156.1M242.8 138.6V143.7M244.5 133.5V138.0M246.1 128.3V134.8M248.3 111.9V123.2M252.0 108.2V114.7M253.7 102.8V108.3M255.3 97.8V105.8M256.7 87.7V94.5M260.4 104.2V111.2M263.7 104.2V111.2M266.7 104.5V112.5M268.1 100.5V111.5M272.9 116.7V128.8M280.5 136.0V148.0M282.1 129.9V134.0M283.8 126.9V131.9M285.5 123.7V129.3M289.8 150.7V156.7M293.0 167.6V177.6M294.7 167.1V173.1M299.7 160.7V170.3M301.4 160.7V167.7M304.7 162.7V170.8M306.4 161.4V165.4M321.1 200.9V212.9M322.8 186.5V195.5M324.8 174.9V184.5M326.5 168.4V173.4M334.9 189.2V196.2M336.5 183.5V188.5M337.7 171.3V179.8M339.4 167.7V178.3M343.2 168.4V173.4M352.4 153.4V167.4M354.1 149.0V155.0M355.5 143.7V148.7M357.1 137.6V144.7M360.8 135.3V140.3M364.2 134.3V141.3M367.5 125.4V133.5M374.2 142.5V149.0M376.7 140.3V145.3M378.4 140.3V145.3M379.8 132.6V137.1M381.4 128.9V132.4M382.6 117.9V125.9M384.3 115.9V120.4M389.3 120.2V125.2M392.6 124.6V127.6M395.2 124.4V126.9M404.4 141.7V145.7M406.0 139.6V142.7M407.7 136.6V140.6M410.2 134.0V140.0M418.6 148.4V152.4M420.3 145.7V149.2M421.6 136.0V145.5M424.0 131.4V137.5M435.7 141.8V146.3M437.0 137.3V143.3M438.4 133.3V139.8M440.0 121.6V133.1M441.7 112.5V119.6M443.2 109.2V113.7M444.7 108.5V111.0M453.8 121.1V126.1M456.3 113.9V119.9M463.5 110.2V117.7M467.1 109.5V112.5M469.8 106.5V113.0M475.5 116.2V119.2M478.5 111.9V116.9M488.1 137.1V142.7M489.7 132.3V135.8M492.3 131.4V135.0M498.3 135.1V139.6M500.0 129.9V134.0M501.6 123.6V128.6M506.7 129.9V134.0M508.3 124.9V128.9M514.4 121.2V126.8M516.0 112.2V118.2M517.7 111.3V115.5M521.1 103.8V112.4M524.9 105.8V107.8M526.6 90.4V104.0M531.1 83.7V92.3M532.4 86.2V89.8M535.8 81.0V86.6M542.5 100.0V104.5M545.9 101.0V106.0M550.9 101.8V106.8M557.6 101.9V108.1M560.9 102.6V107.7M568.8 113.9V119.9M579.3 118.6V123.6M581.0 115.2V120.2M587.2 115.0V119.6M589.4 113.5V118.6M591.1 105.2V110.2M592.2 105.0V109.5M602.3 135.5V141.0M604.0 131.3V134.3M605.6 129.6V132.6M612.3 129.1V133.1M614.0 127.9V130.9M615.7 125.6V129.1M617.8 123.2V127.3M621.7 129.6V135.1M632.1 151.0V153.0M633.8 150.4V152.9M636.8 146.8V151.4M640.5 146.0V150.5M642.1 142.0V147.0M643.8 137.8V142.8M645.5 132.9V138.5M647.1 129.8V133.3M648.8 123.6V128.6M650.5 119.3V122.5M657.2 124.6V127.6M661.9 118.9V122.4M663.6 118.0V121.6M666.4 117.2V120.7M673.1 129.3V131.3M674.8 127.6V129.6M676.4 126.8V128.8M679.8 125.9V127.9M686.5 137.1V140.1M688.2 136.3V141.8M689.5 128.8V134.3M691.2 126.1V128.6M707.8 142.1V147.3M709.4 138.0V141.0M711.1 137.1V140.1M712.8 135.3V137.8M715.8 130.6V134.1M719.1 133.8V136.8M720.8 131.3V134.3M722.5 130.4V133.5M724.2 126.4V129.9M725.8 125.6V129.1M727.0 120.2V125.2M728.7 118.9V122.4M729.7 114.9V118.9M733.1 112.5V117.0M736.1 112.5V117.0M743.4 117.2V120.7M745.1 116.2V119.2M753.8 126.4V129.9M755.5 125.6V129.1M759.2 114.4V129.4M768.9 126.6V133.1M770.6 125.2V127.8M776.1 119.9V123.9M777.8 117.7V120.2M781.1 119.2V121.2M782.8 115.2V120.2M784.5 113.9V117.4M787.3 104.5V112.5M789.0 101.3V104.8M795.3 104.2V106.2M797.3 94.8V103.8M799.0 88.4V95.9M800.7 87.9V91.4M805.7 87.2V91.3M810.7 103.5V106.0M816.8 113.0V119.1M818.4 110.3V113.4M830.5 126.6V130.6M833.8 124.1V128.1M838.5 136.0V140.5M840.2 134.8V138.3M841.9 134.0V137.5M843.6 134.0V137.5M844.7 131.3V136.8M848.6 129.6V135.1M852.3 129.4V131.9M853.9 129.2V131.9M855.3 129.2V131.9M861.6 145.7V151.7M863.3 142.0V144.5M864.6 137.6V142.2M871.3 145.5V148.5M876.4 124.6V140.1M878.0 119.9V123.9M879.7 116.9V121.9M883.1 117.7V120.2M884.7 116.9V119.4M886.4 108.7V116.7M895.8 111.3V118.6M898.5 105.4V110.2M900.1 107.7V110.2M907.5 110.5V114.0M909.2 111.2V114.2M912.6 110.3V113.4M914.2 103.8V109.8M915.9 104.3V109.3M917.6 104.0V108.0M919.3 102.8V105.8M922.6 101.0V106.0M924.3 101.5V105.5M929.3 100.6V107.2M939.3 119.2V123.7M947.7 122.1V127.6M951.1 120.1V122.1M954.4 116.4V119.9M956.1 115.5V119.1M959.4 114.5V117.5M960.6 112.7V117.7M969.0 125.9V127.9M972.3 123.7V126.8M977.3 124.4V126.9M981.2 122.7V130.3" stroke="#089981" stroke-width="1.0" stroke-opacity="0.3" fill="none"/>
<path d="M12.6 207.2V213.2M16.7 213.2V222.3M21.8 213.1V219.1M25.9 214.4V219.4M32.1 206.2V214.2M33.8 213.2V217.3M35.7 218.6V238.7M41.0 220.9V225.5M42.7 223.6V231.2M44.9 216.6V235.7M46.5 245.7V256.8M52.2 248.0V257.1M53.9 255.7V262.8M55.6 253.4V268.5M57.3 258.4V278.5M67.0 263.6V274.2M68.3 271.6V276.2M77.0 230.0V241.5M83.7 217.1V222.6M94.9 167.9V176.4M98.3 169.0V173.6M102.1 166.7V171.7M103.8 170.0V175.1M105.5 175.4V183.9M112.5 171.0V174.1M114.2 172.2V176.2M115.9 173.7V177.2M129.7 120.9V130.5M133.1 128.6V133.7M134.8 130.3V135.3M153.2 64.0V76.1M154.9 73.7V84.8M156.5 88.8V104.9M158.2 102.9V110.9M159.9 108.6V113.6M161.6 114.2V131.3M163.2 129.0V140.0M164.9 132.3V148.4M170.8 118.9V127.5M174.1 125.6V131.7M179.1 115.7V122.3M180.8 120.3V130.3M182.5 128.3V137.3M184.2 136.3V144.4M188.7 132.3V143.3M190.4 144.3V151.4M192.1 145.7V151.7M198.4 123.6V128.6M200.9 130.9V138.0M202.6 133.6V138.6M208.8 132.3V138.3M211.0 136.6V140.6M216.0 139.3V146.3M217.7 143.7V148.7M218.8 150.4V165.4M220.2 162.1V168.1M221.9 167.1V173.1M225.5 173.3V180.3M232.7 160.9V165.9M234.4 159.4V164.9M235.6 161.4V170.4M239.9 153.3V158.4M250.3 108.3V117.9M258.7 92.1V110.7M262.0 103.3V110.3M265.4 102.8V108.3M269.6 99.3V114.4M271.2 115.2V122.7M275.4 121.4V137.5M277.1 136.5V145.0M278.8 135.0V144.0M286.8 125.6V131.6M288.5 137.3V153.4M291.3 156.2V174.8M296.4 168.1V174.6M298.0 170.3V175.8M303.1 162.1V170.6M308.1 162.4V169.4M309.7 168.4V173.4M311.4 167.4V171.9M313.1 173.8V189.8M314.8 189.0V193.0M316.4 190.5V194.0M318.1 189.7V195.7M319.8 198.6V211.1M328.2 164.4V172.4M329.8 172.8V178.3M331.5 173.8V182.3M333.2 183.3V197.9M341.6 166.7V174.3M344.9 170.3V175.8M346.9 171.4V175.4M349.1 175.1V180.1M350.8 175.8V180.3M359.1 135.3V142.8M362.5 136.3V141.8M365.8 133.3V137.3M369.2 125.2V130.3M370.4 129.6V137.6M372.1 138.8V146.8M385.9 116.0V121.1M387.6 120.6V126.6M390.6 123.9V129.9M396.8 122.6V124.6M399.3 125.2V132.8M401.0 133.3V142.3M402.7 141.2V146.2M411.9 135.0V141.5M413.6 138.3V142.3M414.9 143.0V151.0M416.9 147.8V160.4M425.6 132.3V135.8M427.3 134.3V138.8M429.0 138.8V144.3M430.6 140.0V144.0M432.3 141.5V150.0M434.0 144.0V150.0M446.4 106.5V113.0M448.7 111.2V116.7M450.4 114.9V118.9M452.1 117.9V123.4M457.9 114.2V118.7M460.5 116.9V121.9M462.1 117.5V122.1M465.5 108.7V111.7M468.5 111.4V114.9M471.3 101.8V109.3M473.8 111.2V121.7M477.2 115.5V119.1M480.2 114.9V118.9M481.9 116.9V121.9M483.6 124.6V132.6M485.2 133.5V138.0M486.6 136.5V142.5M493.9 128.3V132.3M495.9 132.3V138.3M503.6 128.9V132.4M505.3 129.6V132.6M509.8 123.2V127.3M511.3 119.9V128.9M512.7 128.9V132.4M519.4 113.2V122.2M522.4 104.7V108.2M527.9 83.7V89.8M529.4 90.1V95.1M534.1 85.4V88.9M537.5 83.2V90.3M540.0 92.4V97.0M541.1 94.8V103.8M544.2 101.3V104.8M547.5 104.3V109.3M549.2 103.3V107.8M552.6 105.5V111.5M554.2 104.2V108.7M555.9 103.3V107.8M559.3 103.5V108.5M562.6 104.7V110.7M564.3 105.2V112.7M565.9 110.8V115.4M567.6 111.4V114.9M570.5 111.4V114.9M572.1 112.0V115.0M574.3 113.0V116.5M576.0 113.9V117.4M577.7 118.2V122.2M582.7 111.9V114.4M585.5 105.8V116.6M593.6 106.8V111.9M595.2 116.4V124.9M596.9 120.9V127.9M598.6 129.9V134.0M600.6 130.9V140.5M607.3 127.9V130.9M609.0 128.8V131.8M610.6 130.9V135.5M620.0 125.7V134.8M623.7 129.9V134.0M625.4 131.4V135.0M627.1 136.0V143.0M628.7 143.3V147.3M630.4 148.4V157.4M635.4 153.0V161.1M638.8 145.3V150.4M652.2 120.6V124.1M653.8 123.7V126.8M655.5 124.7V128.3M658.9 125.2V127.8M660.2 122.4V126.4M664.7 116.2V121.7M668.1 117.7V122.7M669.7 122.9V133.5M671.4 128.6V131.1M678.1 123.9V127.4M681.5 126.6V128.1M683.3 127.3V135.8M684.8 136.1V138.6M692.3 123.9V127.4M694.0 127.1V130.1M695.7 127.9V130.9M698.2 130.9V135.5M699.9 138.5V145.5M701.6 140.3V142.8M703.2 141.2V143.7M704.9 142.7V147.2M706.2 144.8V148.4M714.4 132.8V135.3M717.5 131.4V135.0M731.4 116.2V119.2M734.7 116.9V119.4M737.4 113.2V117.2M738.8 119.6V122.6M740.1 121.1V123.6M741.8 121.7V123.7M747.6 115.9V120.4M748.8 122.9V130.9M750.5 127.9V130.9M752.1 128.6V131.1M757.2 127.4V131.4M760.8 119.9V123.9M762.5 121.4V124.9M764.2 122.7V125.2M765.5 127.9V130.9M767.2 129.9V136.5M772.2 124.6V127.6M773.9 125.2V127.8M779.4 118.6V121.1M785.8 113.4V115.4M790.6 101.8V104.3M792.0 100.8V105.3M793.7 104.2V106.2M802.4 85.3V90.2M804.0 88.1V92.1M807.4 89.8V96.3M809.1 94.9V104.5M812.4 104.2V106.2M813.8 105.7V109.7M815.4 110.2V115.2M820.1 111.7V113.7M822.1 111.7V113.7M823.8 113.9V117.4M825.5 117.4V121.4M827.1 123.2V127.3M828.8 125.2V130.3M832.2 127.1V130.1M835.5 124.4V126.9M836.9 129.9V139.0M846.9 132.3V135.8M850.6 129.4V131.9M856.9 131.3V139.3M858.3 140.3V145.3M860.0 144.3V151.4M866.3 139.0V142.5M868.0 142.8V145.3M869.7 143.8V146.8M873.0 146.2V148.7M874.7 144.0V147.5M881.4 115.9V120.4M888.1 108.5V111.0M889.8 109.2V111.2M891.4 109.2V112.5M893.1 111.7V116.2M901.8 108.7V111.7M903.5 109.5V112.5M905.0 111.2V116.7M910.9 109.7V113.2M920.9 99.0V105.5M925.9 101.8V106.8M927.6 102.5V107.0M931.0 101.1V109.2M932.6 110.2V112.7M934.3 112.2V118.2M936.0 118.9V122.4M937.7 119.7V123.2M941.0 119.6V122.6M942.7 120.2V122.7M944.4 119.4V124.4M946.0 120.2V125.2M949.4 120.1V122.1M952.7 120.1V122.1M957.8 114.2V118.7M962.3 114.5V117.5M964.0 116.2V121.7M965.6 119.9V123.9M967.3 123.4V127.9M970.6 126.6V128.1M974.0 124.4V126.9M975.7 123.9V127.4M979.0 123.6V126.1M982.5 121.1V123.6" stroke="#f23645" stroke-width="1.0" stroke-opacity="0.3" fill="none"/>
<path d="M29.3 210.4V221.8M30.6 200.0V214.6M37.2 212.8V223.6M50.2 249.1V275.2M58.9 271.5V280.4M69.8 266.2V278.3M73.2 248.5V260.0M74.2 248.7V258.8M75.3 237.3V250.1M78.7 228.4V237.3M82.0 214.6V226.7M87.1 197.2V215.7M89.9 178.1V192.1M91.6 177.3V186.2M93.3 172.8V184.9M100.5 166.7V177.5M119.7 155.2V169.9M122.5 136.7V145.7M136.4 132.5V146.5M139.3 111.4V129.2M149.8 78.8V91.5M151.5 61.7V79.0M166.1 142.6V156.6M169.1 117.7V138.7M172.4 124.3V133.8M175.8 128.4V137.3M185.4 143.4V152.3M187.0 136.0V151.3M193.7 143.4V152.3M195.4 126.0V141.3M205.1 130.8V139.7M212.6 136.0V151.3M223.5 171.6V181.1M241.1 141.3V157.8M248.3 110.4V124.7M255.3 96.7V106.9M256.7 86.8V95.4M260.4 103.2V112.1M263.7 103.2V112.1M266.7 103.4V113.6M268.1 99.0V113.0M272.9 115.1V130.4M280.5 134.4V149.6M293.0 166.2V179.0M299.7 159.4V171.5M301.4 159.8V168.7M304.7 161.7V171.8M321.1 199.3V214.6M322.8 185.3V196.7M324.8 173.7V185.8M334.9 188.2V197.1M337.7 170.1V180.9M339.4 166.3V179.7M352.4 151.5V169.3M357.1 136.7V145.6M364.2 133.4V142.3M367.5 124.3V134.5M382.6 116.8V127.0M421.6 134.7V146.8M440.0 120.0V134.7M441.7 111.6V120.5M463.5 109.2V118.7M521.1 102.7V113.5M526.6 88.6V105.8M531.1 82.6V93.4M759.2 112.4V131.4M787.3 103.4V113.6M797.3 93.6V105.0M799.0 87.4V97.0M876.4 122.5V142.2M886.4 107.6V117.8M895.8 110.3V119.6M981.2 121.7V131.3" stroke="#089981" stroke-width="1.3" stroke-opacity="0.4" fill="none"/>
<path d="M16.7 212.0V223.5M32.1 205.1V215.3M35.7 215.9V241.4M42.7 222.6V232.2M44.9 214.0V238.2M46.5 244.2V258.2M52.2 246.8V258.3M53.9 254.8V263.7M55.6 251.4V270.5M57.3 255.7V281.2M67.0 262.2V275.6M77.0 228.4V243.1M94.9 166.7V177.5M105.5 174.3V185.1M129.7 119.7V131.8M153.2 62.4V77.7M154.9 72.3V86.3M156.5 86.7V107.0M158.2 101.8V112.0M161.6 112.0V133.6M163.2 127.5V141.5M164.9 130.2V150.5M170.8 117.8V128.6M180.8 118.9V131.7M182.5 127.1V138.6M184.2 135.3V145.4M188.7 130.8V144.8M190.4 143.4V152.3M200.9 130.0V138.9M216.0 138.4V147.3M218.8 148.4V167.4M225.5 172.3V181.2M235.6 160.2V171.6M250.3 107.1V119.2M258.7 89.6V113.2M262.0 102.4V111.3M269.6 97.3V116.4M271.2 114.2V123.7M275.4 119.3V139.6M277.1 135.3V146.1M278.8 133.8V145.2M288.5 135.2V155.5M291.3 153.7V177.3M303.1 160.9V171.7M308.1 161.5V170.4M313.1 171.6V192.0M319.8 196.9V212.8M328.2 163.3V173.5M331.5 172.6V183.4M333.2 181.4V199.8M341.6 165.7V175.3M359.1 134.3V143.8M370.4 128.5V138.7M372.1 137.7V147.9M399.3 124.2V133.8M401.0 132.1V143.5M414.9 141.9V152.1M416.9 146.2V162.1M432.3 140.3V151.2M471.3 100.8V110.3M473.8 109.8V123.1M483.6 123.5V133.7M511.3 118.7V130.1M519.4 112.0V123.4M537.5 82.3V91.2M541.1 93.6V105.0M564.3 104.2V113.7M585.5 104.3V118.1M595.2 115.2V126.1M596.9 120.0V128.9M600.6 129.7V141.8M620.0 124.5V136.0M627.1 135.0V143.9M630.4 147.1V158.6M635.4 152.0V162.1M669.7 121.5V134.9M683.3 126.1V136.9M699.9 137.5V146.4M748.8 121.8V132.0M809.1 93.7V105.8M836.9 128.7V140.2M856.9 130.2V140.4M860.0 143.4V152.3M931.0 100.1V110.2" stroke="#f23645" stroke-width="1.3" stroke-opacity="0.4" fill="none"/>
<path d="M11 155.3H1065" stroke="#5e35b1" stroke-width="3.6" fill="none"/>
<path d="M323.6 215.8 L1012.3 137.8" stroke="#0b4f0b" stroke-width="2.4" fill="none" stroke-linecap="round"/>
<path d="M804.5 82.9 L1051.7 109.4" stroke="#0b4f0b" stroke-width="2.4" fill="none" stroke-linecap="round"/>
<path d="M11 122.6H1014" stroke="#f23645" stroke-width="1" stroke-opacity="0.62" stroke-dasharray="1.15 1.29" fill="none"/>
<g stroke="#787b86" stroke-width="1" fill="none" stroke-dasharray="4.395 4.395">
<path d="M11 409.6H1065" stroke-opacity="0.45"/>
</g>
<path d="M11.00 409.6V366.6H11.53V368.2H13.18V372.0H14.82V374.8H16.47V380.7H18.12V384.7H19.78V384.6H21.43V386.1H23.07V387.7H24.72V389.1H26.37V388.9H28.03V388.3H29.68V384.2H31.32V386.8H32.97V391.6H34.62V399.7H36.28V398.3H37.93V398.5H39.58V398.7H41.22V400.9H42.87V404.2H44.53V419.7H46.18V429.8H47.83V431.9H49.47V433.0H51.12V431.7H52.78V434.6H54.43V438.0H56.08V442.4H57.72V447.5H59.37V444.7H61.03V440.0H62.68V437.5H64.33V438.2H65.97V441.3H67.62V441.8H69.28V438.1H70.93V431.0H72.58V422.7H74.22V414.5H75.87V412.7H77.53V410.9H79.18V401.5H80.83V398.0H82.47V396.8H84.12V392.0H85.78V385.0H87.43V379.5H89.08V376.5H90.72V375.5H92.37V374.5H94.03V374.5H95.68V374.7H97.33V374.8H98.97V376.3H100.62V378.1H102.28V380.4H103.93V384.1H105.58V387.1H107.22V387.1H108.87V387.1H110.53V387.2H112.18V388.3H113.83V389.4H115.47V388.6H117.12V386.4H118.78V384.2H120.43V383.1H122.08V382.2H123.72V382.0H125.37V382.2H127.03V382.4H128.68V382.6H130.32V384.0H131.97V385.5H133.62V387.0H135.28V388.3H136.93V387.1H138.57V383.5H140.22V381.5H141.87V379.5H143.53V378.4H145.18V377.8H146.82V377.3H148.47V375.4H150.12V372.5H151.78V374.1H153.43V379.5H155.07V385.0H156.72V389.7H158.37V394.3H160.03V398.8H161.68V403.3H163.32V407.0H164.97V411.9H166.62V403.5H168.28V402.3H169.93V403.4H171.57V404.6H173.22V405.8H174.87V404.3H176.53V402.7H178.18V401.7H179.82V405.8H181.47V416.9H183.12V418.8H184.78V419.5H186.43V417.2H188.07V419.8H189.72V422.4H191.37V423.5H193.03V422.5H194.68V418.2H196.32V407.8H197.97V413.3H199.62V418.1H201.28V419.7H202.93V421.3H204.57V421.1H206.22V420.2H207.87V421.3H209.53V423.0H211.18V427.8H212.82V427.3H214.47V427.0H216.12V434.1H217.78V439.8H219.43V443.6H221.07V444.8H222.72V445.6H224.37V444.9H226.03V443.4H227.68V439.7H229.32V435.9H230.97V431.5H232.62V431.8H234.28V434.3H235.93V436.1H237.57V431.0H239.22V424.9H240.87V416.1H242.53V397.6H244.18V395.4H245.82V387.6H247.47V379.2H249.12V378.8H250.78V375.9H252.43V371.3H254.07V365.3H255.72V362.5H257.37V366.4H259.03V378.3H260.68V380.8H262.32V381.6H263.97V383.2H265.62V386.1H267.28V384.9H268.93V388.9H270.57V398.5H272.22V399.0H273.87V405.2H275.53V413.1H277.18V413.3H278.82V412.6H280.47V406.6H282.12V404.6H283.78V403.3H285.43V403.8H287.07V415.0H288.72V426.4H290.37V430.5H292.03V430.5H293.68V430.5H295.32V430.5H296.97V428.8H298.62V426.6H300.28V425.4H301.93V426.9H303.57V426.4H305.22V425.8H306.87V427.4H308.53V430.1H310.18V433.4H311.82V437.0H313.47V440.6H315.12V440.6H316.78V442.8H318.43V445.5H320.07V443.6H321.72V437.4H323.37V427.1H325.03V424.1H326.68V423.7H328.32V425.1H329.97V428.0H331.62V429.7H333.28V429.7H334.93V428.7H336.57V423.2H338.22V420.0H339.87V417.9H341.53V417.5H343.18V417.8H344.82V418.3H346.47V419.3H348.12V420.3H349.78V420.1H351.43V406.5H353.07V394.8H354.72V388.2H356.37V383.9H358.02V381.1H359.68V380.9H361.32V380.8H362.97V379.3H364.62V373.7H366.27V371.0H367.93V370.8H369.57V374.0H371.22V382.4H372.87V388.1H374.52V388.9H376.18V388.4H377.82V385.4H379.47V382.1H381.12V379.8H382.77V378.7H384.43V378.8H386.07V379.4H387.72V385.9H389.37V386.1H391.02V391.2H392.68V391.3H394.32V391.4H395.97V391.8H397.62V393.7H399.27V395.9H400.93V400.9H402.57V403.7H404.22V404.6H405.87V404.1H407.52V403.2H409.18V400.9H410.82V401.8H412.47V404.6H414.12V413.8H415.77V421.3H417.43V421.3H419.07V421.3H420.72V405.3H422.37V400.5H424.02V400.6H425.68V401.5H427.32V405.0H428.97V416.6H430.62V424.7H432.27V427.5H433.93V427.8H435.57V425.2H437.22V400.9H438.87V380.1H440.52V371.6H442.18V369.2H443.82V369.5H445.47V370.3H447.12V381.0H448.77V381.8H450.43V387.5H452.07V392.2H453.72V391.3H455.37V388.8H457.02V390.7H458.68V392.3H460.32V390.7H461.97V386.9H463.62V386.6H465.27V386.3H466.93V385.0H468.57V384.4H470.22V384.2H471.87V389.4H473.52V396.9H475.17V396.7H476.82V394.9H478.47V394.9H480.12V398.4H481.77V402.4H483.42V417.5H485.07V423.2H486.72V422.5H488.37V420.1H490.02V417.6H491.67V413.8H493.32V416.4H494.97V420.5H496.62V420.5H498.27V420.5H499.92V412.1H501.57V414.7H503.22V417.4H504.87V417.5H506.52V416.6H508.17V411.5H509.82V410.5H511.47V418.3H513.12V418.3H514.78V393.4H516.42V391.9H518.08V393.1H519.73V384.5H521.38V384.6H523.03V384.7H524.67V365.9H526.33V360.3H527.98V360.6H529.62V364.5H531.28V365.7H532.92V368.8H534.58V369.1H536.23V371.2H537.88V379.2H539.53V386.2H541.17V392.8H542.83V395.6H544.48V397.6H546.12V398.4H547.78V399.1H549.42V399.7H551.08V400.3H552.73V400.8H554.38V401.4H556.03V401.7H557.67V401.8H559.33V402.0H560.98V403.5H562.62V405.5H564.28V406.9H565.92V411.3H567.58V413.7H569.23V413.5H570.88V412.9H572.53V413.3H574.17V417.7H575.83V422.5H577.48V423.8H579.12V423.2H580.78V420.0H582.42V417.8H584.08V419.5H585.73V425.1H587.38V424.4H589.03V418.3H590.67V411.8H592.33V424.4H593.98V438.5H595.62V444.4H597.28V451.5H598.92V457.6H600.58V459.2H602.23V455.8H603.88V447.4H605.53V441.6H607.17V437.7H608.83V439.0H610.48V440.3H612.12V435.2H613.78V431.9H615.42V429.0H617.08V427.5H618.73V432.2H620.38V431.6H622.03V429.7H623.67V431.5H625.33V438.9H626.98V445.8H628.62V451.5H630.28V452.5H631.92V449.5H633.58V448.0H635.23V447.5H636.88V438.0H638.53V436.8H640.17V435.5H641.83V430.7H643.48V425.7H645.12V418.9H646.78V407.4H648.42V400.4H650.08V399.1H651.73V403.2H653.38V404.7H655.03V404.5H656.67V403.6H658.33V401.4H659.98V397.9H661.62V392.9H663.28V392.4H664.92V392.0H666.58V392.5H668.23V394.7H669.88V404.9H671.53V406.6H673.17V405.7H674.83V401.0H676.48V399.3H678.12V398.9H679.78V399.8H681.42V402.4H683.08V417.2H684.73V420.3H686.38V420.8H688.03V417.6H689.67V400.1H691.33V399.3H692.98V400.1H694.62V402.9H696.28V411.7H697.92V418.5H699.58V423.2H701.23V423.7H702.88V426.9H704.53V429.3H706.17V429.6H707.83V423.7H709.48V417.8H711.12V413.7H712.78V410.7H714.42V407.2H716.08V413.7H717.73V417.1H719.38V415.9H721.03V412.0H722.67V403.2H724.33V397.4H725.98V387.2H727.62V381.0H729.27V380.6H730.92V376.6H732.58V376.9H734.23V375.8H735.88V376.1H737.52V387.4H739.17V394.2H740.83V390.6H742.48V386.3H744.12V383.8H745.77V388.1H747.42V394.9H749.08V402.4H750.73V413.0H752.38V406.8H754.02V402.7H755.67V401.4H757.33V393.3H758.98V393.4H760.62V393.7H762.27V398.2H763.92V403.2H765.58V419.2H767.23V415.4H768.88V404.8H770.52V404.1H772.17V403.9H773.83V400.2H775.48V391.4H777.12V391.3H778.77V392.6H780.42V394.6H782.08V386.9H783.73V383.9H785.38V370.3H787.02V361.9H788.67V361.5H790.33V361.4H791.98V369.3H793.62V374.3H795.27V368.4H796.92V355.9H798.58V353.8H800.23V353.6H801.88V359.5H803.52V367.8H805.17V368.0H806.83V377.9H808.48V388.6H810.12V395.8H811.77V396.6H813.42V400.5H815.08V408.3H816.73V410.9H818.38V407.8H820.02V408.1H821.67V408.7H823.33V416.6H824.98V422.3H826.62V424.8H828.27V426.7H829.92V428.0H831.58V426.7H833.23V427.5H834.88V434.0H836.52V438.3H838.17V438.8H839.83V435.7H841.48V433.8H843.12V432.6H844.77V431.1H846.42V429.4H848.08V428.5H849.73V427.9H851.38V427.5H853.02V427.1H854.67V431.8H856.33V436.9H857.98V441.7H859.62V443.2H861.27V438.6H862.92V433.0H864.58V431.0H866.23V431.0H867.88V431.8H869.52V432.5H871.17V432.7H872.83V429.9H874.48V429.7H876.12V422.9H877.77V404.2H879.42V403.1H881.08V402.0H882.73V400.4H884.38V393.3H886.02V389.6H887.67V388.0H889.33V386.5H890.98V386.3H892.62V387.3H894.27V389.2H895.92V384.5H897.58V384.2H899.23V384.4H900.88V385.5H902.52V388.5H904.17V391.5H905.83V389.3H907.48V389.0H909.12V389.6H910.77V389.2H912.42V389.7H914.08V389.5H915.73V389.3H917.38V387.0H919.02V386.2H920.67V388.7H922.33V389.5H923.98V388.1H925.62V388.6H927.27V390.3H928.92V391.9H930.58V395.9H932.23V400.0H933.88V405.6H935.52V411.3H937.17V412.7H938.83V413.8H940.48V414.9H942.12V416.9H943.77V418.6H945.42V419.3H947.08V419.9H948.73V420.3H950.38V420.7H952.02V421.3H953.67V418.5H955.33V417.4H956.98V425.0H958.62V425.0H960.27V419.0H961.92V426.8H963.58V432.4H965.23V441.5H966.88V441.7H968.52V441.7H970.17V436.9H971.83V431.4H973.48V432.7H975.12V434.4H976.77V433.4H978.42V433.1H980.08V431.4H981.73V427.7H983.38V409.6Z" fill="#2962ff" stroke="none"/>
<g stroke="#787b86" stroke-width="1" fill="none" stroke-dasharray="4.395 4.395">
<path d="M11 388.9H1063"/>
<path d="M11 431.4H1063"/>
</g>
<path d="M10.9 591.4 L13.4 587.2 L15.1 587.2 L17.1 566.3 L19.3 569.7 L22.6 577.2 L25.9 580.6 L28.5 573.0 L31.5 580.6 L33.5 576.9 L35.2 545.1 L37.2 553.8 L40.2 557.1 L41.9 548.7 L43.5 549.6 L45.2 559.6 L46.9 544.6 L48.6 545.4 L50.2 536.7 L52.2 542.0 L54.9 543.7 L56.9 535.3 L60.3 541.2 L64.5 548.7 L66.6 542.0 L68.6 544.6 L70.3 551.3 L73.7 558.8 L77.0 567.2 L80.4 573.0 L83.7 577.2 L87.1 581.9 L91.2 586.4 L95.4 589.8 L98.4 589.8 L99.6 583.9 L102.1 583.9 L104.6 574.2 L108.0 577.2 L111.8 579.2 L114.7 577.2 L118.0 580.6 L122.2 585.9 L127.2 590.3 L130.9 592.6 L133.1 588.9 L134.8 588.9 L136.4 576.4 L139.8 581.4 L144.0 585.2 L148.2 588.9 L152.0 593.9 L153.7 582.2 L155.4 568.0 L157.4 567.2 L159.0 552.9 L160.4 558.8 L162.4 553.8 L164.9 552.4 L167.4 555.4 L169.4 563.8 L174.1 565.5 L179.1 568.8 L180.0 552.8 L181.3 556.1 L183.0 550.6 L185.0 553.6 L188.4 560.3 L190.9 559.5 L193.4 565.3 L196.7 568.7 L200.1 561.2 L202.6 562.0 L204.3 560.3 L207.6 564.5 L210.1 562.0 L212.1 552.8 L214.8 557.0 L216.8 554.5 L218.5 538.6 L221.0 537.7 L223.5 537.4 L225.5 543.6 L228.6 548.6 L231.9 553.6 L234.9 551.1 L237.8 557.0 L240.3 562.0 L241.9 566.2 L245.3 570.4 L248.6 577.1 L252.0 581.2 L256.2 585.4 L257.8 567.0 L259.5 566.2 L262.0 570.4 L264.5 572.9 L266.7 571.2 L268.7 574.5 L271.2 563.7 L272.9 564.5 L274.6 556.1 L277.9 557.8 L282.1 562.0 L286.3 566.7 L288.0 545.2 L289.2 543.6 L290.8 531.0 L293.0 534.4 L295.5 541.1 L298.0 543.6 L300.5 551.1 L302.2 546.1 L304.7 550.3 L307.2 547.8 L309.2 543.6 L310.6 546.1 L312.3 531.9 L314.8 534.4 L317.3 536.9 L319.3 522.6 L321.5 531.9 L324.0 540.2 L327.3 549.9 L330.7 548.6 L332.3 536.9 L334.9 541.1 L337.4 551.9 L340.7 557.0 L344.1 558.6 L349.1 552.8 L351.6 560.3 L355.8 565.3 L360.0 572.0 L362.5 567.8 L365.9 572.9 L368.7 575.7 L370.9 560.3 L372.6 556.1 L375.9 560.3 L379.3 567.0 L382.6 574.5 L385.1 576.2 L387.1 564.5 L388.5 563.7 L390.5 555.6 L392.6 557.0 L395.2 558.3 L397.2 551.9 L399.3 540.2 L401.5 539.4 L404.4 543.6 L407.7 548.6 L410.2 554.5 L412.2 557.8 L414.4 551.1 L417.3 539.4 L419.4 545.2 L421.6 555.3 L424.5 558.6 L427.8 548.6 L431.2 547.4 L434.5 550.3 L437.0 557.0 L440.0 565.3 L442.9 569.5 L446.2 573.7 L449.6 570.4 L451.7 563.7 L453.8 563.7 L456.3 568.7 L458.8 572.0 L461.3 571.2 L463.8 576.2 L466.3 577.9 L468.8 572.0 L471.3 578.7 L473.5 562.0 L476.4 566.2 L478.9 567.0 L481.4 557.0 L483.1 545.2 L486.4 539.7 L488.9 546.9 L492.3 551.1 L493.9 554.5 L496.4 543.6 L499.0 547.8 L501.5 553.6 L505.7 557.0 L509.0 563.7 L512.3 567.3 L516.5 572.9 L519.0 557.8 L521.6 564.5 L524.1 567.0 L526.6 573.7 L529.1 571.2 L532.4 576.2 L535.8 578.7 L538.3 570.4 L539.2 557.0 L540.0 557.0 L543.3 558.6 L546.7 556.6 L550.0 560.3 L552.6 553.6 L556.7 555.3 L560.9 562.0 L563.4 559.5 L565.1 561.7 L568.8 554.0 L571.0 557.8 L573.5 559.5 L577.2 547.3 L580.2 556.1 L583.5 560.3 L586.9 567.0 L590.2 572.9 L593.2 574.5 L594.9 556.1 L596.9 554.5 L599.9 543.6 L602.8 549.4 L606.1 553.6 L607.8 553.6 L610.0 549.4 L612.8 555.3 L616.2 561.2 L618.4 563.7 L620.0 553.3 L622.0 558.6 L623.7 557.0 L626.2 538.6 L627.9 536.0 L630.1 525.5 L632.1 533.5 L635.1 527.2 L637.1 535.2 L639.6 538.6 L642.1 545.2 L644.6 550.3 L647.1 557.0 L649.7 561.2 L652.2 557.8 L654.7 558.6 L657.2 561.2 L660.5 564.5 L664.7 567.8 L668.1 570.4 L668.9 551.1 L672.3 553.6 L675.6 559.5 L678.1 562.0 L681.0 562.8 L683.1 548.3 L687.3 549.4 L689.8 557.0 L693.2 561.2 L695.7 558.6 L698.2 545.2 L699.4 537.7 L701.6 540.2 L704.1 534.9 L706.1 536.9 L708.3 545.2 L711.6 551.1 L715.8 557.8 L718.3 554.5 L720.0 557.0 L723.3 563.7 L726.7 570.4 L730.0 575.4 L732.6 577.9 L735.9 579.6 L738.8 570.7 L741.8 573.7 L745.1 577.9 L746.8 562.0 L748.8 553.6 L751.8 557.8 L754.8 562.8 L756.8 552.8 L759.3 566.2 L761.5 562.0 L763.9 561.2 L765.2 550.3 L766.9 546.6 L768.9 551.9 L771.9 554.5 L774.4 557.0 L776.6 562.0 L778.6 564.5 L781.1 564.5 L783.6 568.7 L786.1 573.7 L788.6 579.6 L791.2 574.5 L793.7 573.7 L796.2 577.9 L798.7 582.9 L801.2 582.1 L803.2 576.2 L805.4 577.1 L807.1 567.0 L808.4 553.6 L811.2 554.5 L813.8 546.9 L816.3 538.9 L818.4 541.9 L820.8 543.9 L823.8 535.2 L827.1 526.5 L829.7 525.2 L830.8 520.1 L832.5 526.0 L834.7 530.2 L836.0 514.6 L838.0 520.1 L840.5 526.0 L843.1 531.0 L845.6 540.2 L848.1 547.8 L851.4 553.6 L854.8 559.0 L856.4 541.9 L859.0 531.9 L861.5 537.7 L864.0 543.9 L868.2 546.1 L870.7 543.9 L872.7 546.9 L874.4 555.3 L876.0 563.7 L879.0 569.5 L883.2 575.4 L887.4 580.4 L890.8 581.7 L893.3 575.4 L895.5 568.7 L898.3 572.0 L900.0 568.7 L902.0 565.3 L904.2 560.3 L906.7 564.5 L909.2 565.3 L911.7 569.5 L914.2 573.7 L917.6 578.7 L920.9 583.8 L923.8 586.8 L925.9 581.7 L927.6 582.1 L930.1 580.4 L932.1 578.7 L934.3 567.3 L936.8 565.7 L939.3 568.7 L941.9 571.2 L945.2 567.3 L948.6 567.8 L951.9 571.2 L955.2 575.4 L957.8 577.9 L959.4 577.1 L961.6 580.4 L963.6 572.9 L966.1 565.3 L969.5 565.3 L973.7 568.7 L976.2 567.8 L978.4 567.3 L980.0 561.7 L982.5 562.8" stroke="#ff6d00" stroke-width="1.1" fill="none" stroke-linejoin="round"/>
<path d="M10.9 533.6 L12.6 531.1 L15.1 537.8 L18.1 548.7 L20.4 543.7 L23.4 554.5 L28.1 566.3 L30.1 556.2 L32.6 563.8 L34.3 569.6 L35.2 569.7 L40.2 573.0 L43.2 577.2 L45.2 569.7 L48.6 576.4 L51.9 583.1 L55.2 586.4 L57.8 590.3 L60.3 583.9 L64.5 577.5 L67.8 581.4 L70.3 573.9 L72.0 569.7 L73.7 553.8 L76.2 547.9 L79.0 555.4 L81.2 547.1 L83.2 548.7 L85.4 541.2 L87.9 538.7 L89.6 526.9 L91.2 532.8 L94.6 533.6 L98.8 538.6 L103.0 549.5 L107.1 557.1 L110.8 551.7 L113.8 556.2 L116.9 555.4 L119.2 537.0 L122.2 523.6 L124.2 527.8 L126.4 522.7 L128.9 521.9 L131.4 528.6 L133.9 533.6 L136.9 540.3 L139.3 521.9 L142.0 518.6 L144.3 511.0 L147.0 516.9 L150.3 505.2 L152.7 516.9 L155.4 537.0 L158.2 547.0 L160.7 558.7 L164.9 569.6 L167.4 570.5 L169.4 552.0 L172.4 557.9 L175.5 562.1 L178.8 555.4 L180.0 560.3 L182.5 564.5 L185.0 567.8 L187.5 560.3 L190.0 562.0 L193.1 563.7 L195.1 551.9 L197.1 549.4 L200.1 554.5 L203.4 558.6 L206.8 558.6 L210.1 564.5 L213.5 572.0 L216.8 576.2 L221.0 582.9 L224.9 586.8 L227.7 582.1 L231.1 573.7 L233.6 575.4 L236.1 579.6 L237.8 567.0 L239.9 567.0 L241.1 555.3 L242.8 549.4 L245.6 547.8 L248.3 533.9 L251.2 540.2 L253.7 535.5 L256.3 529.3 L257.8 540.2 L260.4 545.2 L263.7 551.9 L266.2 556.1 L267.9 557.0 L269.6 563.7 L272.1 564.5 L273.8 571.2 L276.3 572.9 L277.9 570.4 L280.5 573.7 L284.6 570.7 L288.0 576.2 L291.3 581.7 L294.7 585.4 L297.2 585.4 L299.2 578.7 L301.4 577.9 L304.7 581.2 L308.9 583.8 L311.4 585.1 L313.1 587.9 L316.4 588.8 L317.6 585.4 L321.5 589.6 L323.1 573.7 L325.3 564.5 L327.3 561.2 L330.7 564.5 L333.2 572.0 L334.9 572.9 L336.5 568.7 L338.2 552.8 L340.7 550.3 L344.1 556.1 L347.4 558.6 L349.4 560.6 L351.6 548.6 L354.1 536.9 L357.5 529.7 L360.0 534.4 L362.0 540.2 L364.2 544.4 L367.0 536.0 L369.2 538.6 L372.6 550.3 L375.4 555.0 L378.4 548.6 L380.9 538.6 L382.3 533.5 L384.3 539.4 L386.8 543.6 L390.1 551.1 L392.6 553.6 L395.2 552.8 L396.8 557.0 L399.3 566.2 L403.5 571.2 L406.9 567.8 L408.6 569.5 L410.2 565.3 L412.7 570.4 L416.1 577.1 L418.3 580.4 L419.9 575.4 L421.1 558.6 L423.6 557.8 L427.0 562.8 L430.3 568.7 L433.7 573.7 L435.7 573.7 L436.7 562.0 L438.7 557.0 L440.0 543.6 L441.7 537.7 L446.2 538.6 L448.7 543.6 L451.2 549.4 L452.9 554.5 L455.1 554.5 L456.3 547.8 L458.8 554.5 L461.0 558.3 L463.0 549.4 L465.5 551.9 L468.0 555.3 L470.5 547.8 L472.5 554.5 L474.7 557.8 L478.0 552.8 L480.5 557.8 L483.9 563.7 L486.4 568.7 L488.6 572.0 L490.6 565.3 L493.1 558.6 L495.3 563.7 L497.6 567.0 L499.3 556.1 L501.1 551.1 L503.1 557.0 L506.5 561.7 L509.0 558.6 L511.5 556.1 L512.7 558.6 L514.9 548.6 L516.5 544.4 L519.0 551.9 L521.2 543.6 L523.2 547.8 L524.9 538.6 L526.6 528.5 L529.1 531.9 L530.8 529.3 L533.3 535.2 L535.8 532.7 L538.3 540.2 L540.0 545.2 L542.5 553.6 L545.0 551.9 L547.5 557.8 L550.0 557.0 L553.4 562.0 L556.7 567.8 L560.1 567.0 L564.3 574.5 L568.5 579.6 L572.6 579.6 L577.7 584.1 L580.2 576.2 L583.2 577.1 L584.9 563.7 L586.9 565.3 L589.4 557.3 L591.9 557.0 L594.4 564.5 L597.8 572.0 L601.9 577.9 L605.3 571.2 L610.3 575.4 L615.3 572.9 L618.4 569.5 L621.2 576.2 L625.4 580.4 L630.4 587.1 L635.1 590.5 L637.1 582.1 L640.1 582.1 L643.0 570.4 L646.3 557.0 L649.7 545.2 L652.2 548.6 L655.5 554.5 L657.2 557.8 L659.2 554.5 L661.4 557.0 L663.1 551.9 L665.6 560.3 L668.9 568.7 L672.3 571.2 L676.4 564.5 L679.0 565.3 L682.3 570.4 L685.7 576.2 L688.2 579.1 L689.8 565.3 L692.7 562.0 L695.7 566.2 L699.0 572.9 L703.2 577.9 L706.1 580.4 L708.3 568.7 L710.8 566.2 L712.4 561.2 L715.0 559.5 L716.6 563.7 L719.1 565.3 L720.0 563.7 L722.5 554.5 L725.9 553.6 L727.5 541.9 L730.0 539.4 L732.1 532.7 L734.2 534.4 L736.2 528.2 L738.4 539.4 L741.8 547.8 L744.3 539.4 L746.8 548.6 L749.3 557.0 L751.8 559.5 L755.2 557.0 L757.2 553.6 L759.3 541.1 L762.7 547.8 L765.2 552.8 L767.2 557.8 L770.2 554.5 L773.6 554.5 L776.9 548.9 L779.9 551.9 L782.8 545.2 L785.0 544.4 L787.3 530.5 L789.5 531.9 L792.0 539.4 L794.5 543.6 L796.7 528.5 L798.4 522.6 L800.4 525.2 L802.9 534.4 L805.4 536.0 L807.4 549.4 L809.6 555.3 L812.9 561.2 L816.3 567.0 L818.8 565.3 L822.1 569.5 L826.3 575.4 L830.5 580.4 L833.5 577.1 L836.4 582.1 L839.7 584.6 L843.1 585.8 L844.7 579.6 L848.1 575.4 L853.9 576.2 L857.3 582.9 L861.0 588.8 L863.1 580.4 L864.3 572.9 L867.3 576.2 L870.7 579.6 L874.0 577.1 L874.9 557.0 L876.0 538.9 L878.2 540.2 L879.9 539.4 L882.1 544.4 L884.1 547.8 L886.1 537.4 L888.8 541.1 L891.1 539.4 L893.3 545.2 L895.8 554.5 L897.8 549.9 L900.0 551.9 L902.5 556.1 L905.0 561.2 L907.5 559.0 L910.0 558.6 L912.1 556.1 L914.2 550.3 L916.7 558.6 L920.1 554.5 L922.6 557.0 L924.3 557.0 L926.8 563.7 L929.3 571.2 L931.8 576.2 L934.3 580.4 L937.7 583.8 L941.9 586.3 L945.2 589.6 L948.6 591.3 L951.9 588.8 L953.9 580.4 L956.9 579.6 L958.9 578.7 L960.3 567.8 L962.8 571.2 L965.3 577.1 L969.5 580.4 L972.3 573.7 L975.3 577.1 L978.7 581.2 L982.5 583.4" stroke="#2962ff" stroke-width="1.1" fill="none" stroke-linejoin="round"/>
<path d="M10.9 502.6C11.1 502.3 12.9 499.2 13.4 498.8C13.8 498.3 15.1 497.8 15.4 498.1C15.7 498.4 16.4 500.9 16.7 501.8C17.0 502.8 17.9 506.6 18.4 507.7C18.9 508.8 21.1 511.7 21.8 512.7C22.4 513.7 24.4 516.5 25.1 517.7C25.8 518.9 27.6 523.2 28.5 524.4C29.3 525.7 32.5 529.0 33.5 530.3C34.5 531.5 37.6 536.0 38.5 537.0C39.4 537.9 41.9 538.9 42.7 539.5C43.4 540.0 45.4 542.2 46.0 542.3C46.7 542.5 48.6 541.9 49.4 541.2C50.1 540.4 52.8 536.7 53.6 535.3C54.3 533.9 56.3 528.1 56.9 526.9C57.6 525.7 59.5 523.9 60.3 523.6C61.0 523.3 63.7 523.9 64.5 523.9C65.2 523.9 67.1 522.9 67.8 523.2C68.5 523.6 70.5 526.5 71.2 527.8C71.8 529.0 73.8 534.8 74.5 536.1C75.2 537.5 77.3 540.4 77.8 541.2C78.4 541.9 79.8 543.0 80.4 543.2C80.9 543.3 83.0 543.3 83.7 542.8C84.4 542.4 86.3 539.8 87.1 538.6C87.8 537.5 90.4 532.9 91.2 531.1C92.1 529.3 94.7 521.7 95.4 520.2C96.2 518.7 98.1 516.5 98.8 516.0C99.4 515.5 101.5 514.9 102.1 515.2C102.8 515.5 104.8 518.5 105.5 519.4C106.1 520.3 108.0 523.1 108.8 523.9C109.7 524.7 113.0 527.2 113.8 527.8C114.7 528.4 116.5 530.1 117.2 529.9C117.9 529.8 119.8 527.4 120.5 526.1C121.3 524.8 123.9 518.7 124.7 516.9C125.6 515.0 128.2 509.2 128.9 507.7C129.7 506.2 131.8 502.6 132.3 501.8C132.8 501.1 133.4 500.0 133.9 500.1C134.4 500.3 136.5 503.3 137.3 503.5C138.0 503.6 140.6 502.2 141.5 501.5C142.3 500.7 144.8 497.2 145.7 495.9C146.5 494.7 149.2 490.3 149.8 489.3C150.5 488.2 151.8 486.2 152.3 485.9C152.9 485.7 154.4 486.0 154.9 486.7C155.4 487.5 156.9 491.6 157.4 493.4C157.9 495.3 159.4 503.1 159.9 505.2C160.4 507.2 161.8 512.2 162.4 513.9C163.0 515.5 165.1 520.4 165.7 521.9C166.4 523.4 168.4 527.1 169.1 528.6C169.8 530.1 171.8 535.3 172.4 537.0C173.1 538.6 175.1 543.9 175.8 545.3C176.5 546.8 178.7 550.2 179.1 551.2C179.6 552.2 179.4 554.5 180.0 555.3C180.6 556.1 184.1 558.5 185.0 559.5C185.9 560.5 188.4 564.1 189.2 565.3C190.0 566.6 192.6 571.0 193.4 571.7C194.2 572.4 196.7 571.7 197.6 572.0C198.4 572.4 200.9 574.6 201.8 575.4C202.6 576.1 205.1 578.8 205.9 579.6C206.8 580.3 209.4 582.5 210.1 582.6C210.9 582.7 212.8 581.0 213.5 580.4C214.2 579.9 216.2 578.4 216.8 577.1C217.5 575.7 219.5 569.0 220.2 567.0C220.8 565.0 222.9 558.7 223.5 557.0C224.2 555.2 226.2 550.3 226.9 549.4C227.5 548.6 229.6 548.3 230.2 548.3C230.9 548.2 233.0 549.0 233.6 548.9C234.2 548.9 235.6 547.6 236.1 547.8C236.6 547.9 238.0 549.6 238.6 550.3C239.2 550.9 241.2 553.9 241.9 554.5C242.6 555.0 245.0 556.3 245.6 556.1C246.3 556.0 247.9 554.0 248.6 552.8C249.4 551.6 252.1 546.0 252.8 544.4C253.6 542.9 255.5 537.9 256.2 537.4C256.8 536.9 258.8 538.9 259.5 539.4C260.3 539.8 262.9 541.3 263.7 541.9C264.5 542.5 267.1 544.3 267.9 545.2C268.6 546.2 270.6 550.1 271.2 551.1C271.9 552.1 273.8 555.0 274.6 555.6C275.3 556.3 277.9 557.3 278.8 557.8C279.6 558.4 282.2 560.4 283.0 561.2C283.7 561.9 285.7 565.4 286.3 565.3C286.9 565.3 288.2 561.7 288.8 560.3C289.4 559.0 291.5 553.5 292.2 551.9C292.8 550.4 294.8 545.5 295.5 544.4C296.2 543.3 298.1 541.6 298.9 541.1C299.6 540.6 302.2 539.8 303.1 539.4C303.9 538.9 306.4 537.3 307.2 536.5C308.1 535.8 310.7 533.2 311.4 531.9C312.2 530.5 314.1 525.0 314.8 523.5C315.4 522.0 317.4 517.9 318.1 516.8C318.8 515.7 320.9 512.5 321.5 512.3C322.1 512.0 323.5 513.6 324.0 514.3C324.5 515.0 326.1 518.2 326.5 519.3C326.9 520.4 327.7 524.1 328.2 525.2C328.6 526.2 330.1 529.5 330.7 530.2C331.3 530.8 333.4 531.5 334.0 531.9C334.6 532.2 336.0 532.9 336.5 533.9C337.0 534.9 338.5 540.3 339.0 541.9C339.6 543.5 341.7 548.0 342.4 549.4C343.1 550.9 345.1 554.8 345.7 556.1C346.4 557.5 348.4 561.8 349.1 562.8C349.8 563.8 351.8 566.1 352.4 566.2C353.1 566.3 355.0 564.5 355.8 563.7C356.5 562.9 359.2 559.0 360.0 558.3C360.8 557.6 363.3 557.6 364.2 557.0C365.1 556.4 368.4 552.5 369.2 552.4C370.0 552.4 371.9 555.2 372.6 556.1C373.2 557.1 375.2 561.3 375.9 562.0C376.6 562.7 378.6 563.6 379.3 563.3C379.9 563.1 382.0 560.2 382.6 559.5C383.2 558.8 384.9 556.5 385.4 556.5C386.0 556.4 387.8 557.9 388.5 558.6C389.1 559.4 391.1 562.7 391.8 563.7C392.5 564.6 394.5 567.1 395.2 567.8C395.8 568.6 397.8 571.4 398.5 571.5C399.3 571.6 401.9 569.2 402.7 568.7C403.5 568.2 406.1 566.4 406.9 566.2C407.6 565.9 409.6 566.0 410.2 566.2C410.9 566.3 412.9 568.1 413.6 567.8C414.2 567.6 416.3 564.6 416.9 563.7C417.6 562.7 419.3 558.7 419.9 558.6C420.5 558.6 422.2 561.8 422.8 562.8C423.4 563.8 425.4 568.0 426.1 568.7C426.9 569.4 429.5 569.7 430.3 569.5C431.2 569.4 433.7 566.8 434.5 567.0C435.3 567.2 437.9 571.0 438.7 571.2C439.4 571.4 441.3 569.5 442.0 568.7C442.8 567.8 445.5 563.7 446.2 562.8C447.0 562.0 448.9 560.3 449.6 560.3C450.2 560.3 452.2 562.4 452.9 562.8C453.7 563.2 456.3 564.3 457.1 564.5C457.9 564.7 460.5 564.8 461.3 564.5C462.1 564.2 464.7 561.6 465.5 561.2C466.2 560.7 468.2 560.6 468.8 560.3C469.4 560.0 470.7 557.6 471.3 557.8C471.9 558.0 473.9 561.2 474.7 562.0C475.4 562.7 478.1 564.7 478.9 565.3C479.6 566.0 481.5 568.4 482.2 568.7C482.9 568.9 484.9 568.2 485.6 567.8C486.2 567.5 488.2 565.4 488.9 565.3C489.6 565.3 491.7 566.6 492.3 567.0C492.8 567.4 494.3 569.4 494.8 569.5C495.3 569.7 496.6 568.3 497.3 568.7C498.0 569.1 500.7 572.8 501.5 573.7C502.2 574.6 504.1 577.2 504.8 577.9C505.5 578.6 507.4 580.5 508.2 580.9C508.9 581.3 511.6 582.0 512.3 581.7C513.1 581.5 515.2 579.3 515.7 578.7C516.2 578.1 517.0 575.9 517.4 575.7C517.8 575.5 519.1 577.2 519.9 577.1C520.6 576.9 524.2 575.5 524.9 574.5C525.7 573.6 526.8 569.1 527.4 567.8C528.0 566.6 530.1 563.2 530.8 562.0C531.4 560.7 533.4 556.3 534.1 555.3C534.8 554.2 536.9 551.5 537.5 551.4C538.1 551.4 539.4 553.6 540.0 554.5C540.6 555.3 542.7 559.1 543.3 560.3C544.0 561.5 546.0 565.1 546.7 566.2C547.4 567.3 549.3 570.4 550.0 571.2C550.8 572.0 553.4 573.8 554.2 574.2C555.1 574.6 557.6 574.6 558.4 574.9C559.3 575.1 561.8 576.8 562.6 576.7C563.4 576.7 566.0 575.2 566.8 574.5C567.5 573.9 569.5 570.8 570.1 570.0C570.8 569.3 572.9 567.8 573.5 567.0C574.1 566.2 575.5 562.9 576.0 562.0C576.5 561.0 578.2 557.9 578.8 557.5C579.5 557.0 582.1 556.8 582.7 557.3C583.3 557.8 584.6 561.1 585.2 562.0C585.8 562.9 587.8 565.8 588.6 566.2C589.3 566.6 592.0 566.1 592.7 566.2C593.5 566.3 595.4 567.3 596.1 567.0C596.8 566.8 598.8 564.2 599.4 563.7C600.1 563.1 602.0 561.4 602.8 561.2C603.5 560.9 606.1 561.3 607.0 561.2C607.8 561.0 610.4 559.6 611.2 559.5C611.9 559.4 613.8 559.9 614.5 560.3C615.2 560.7 617.1 563.4 617.8 563.7C618.6 563.9 621.4 563.2 622.0 562.8C622.7 562.5 624.0 561.2 624.5 560.3C625.0 559.4 626.5 555.2 627.1 553.6C627.6 552.0 629.7 546.3 630.4 544.4C631.1 542.6 633.1 536.8 633.8 535.2C634.4 533.6 636.4 529.4 637.1 528.5C637.8 527.6 639.8 525.9 640.5 526.0C641.1 526.1 643.2 528.3 643.8 529.3C644.4 530.4 645.7 535.5 646.3 536.9C646.9 538.2 648.9 541.5 649.7 542.7C650.4 544.0 653.1 547.9 653.8 549.4C654.6 550.9 656.5 556.5 657.2 557.8C657.9 559.1 659.8 562.0 660.5 562.8C661.3 563.7 663.9 565.6 664.7 566.2C665.6 566.7 668.1 568.1 668.9 568.4C669.7 568.6 672.3 568.1 673.1 568.4C673.8 568.6 675.7 570.4 676.4 571.2C677.2 572.0 679.9 576.4 680.6 576.7C681.4 577.1 683.2 575.4 684.0 574.5C684.7 573.7 687.4 568.1 688.2 567.8C688.9 567.6 690.8 571.2 691.5 572.0C692.3 572.9 694.9 576.4 695.7 576.6C696.5 576.7 698.4 574.7 699.0 573.7C699.7 572.7 701.7 567.6 702.4 566.2C703.1 564.8 705.2 560.3 705.7 559.5C706.3 558.6 707.7 557.8 708.3 557.8C708.8 557.8 710.9 558.8 711.6 559.5C712.3 560.1 714.2 563.5 715.0 564.5C715.7 565.5 718.6 568.9 719.1 569.5C719.6 570.1 719.6 570.0 720.0 570.4C720.4 570.7 722.7 572.6 723.3 572.9C724.0 573.1 726.0 573.5 726.7 572.9C727.4 572.3 729.4 568.4 730.0 567.0C730.7 565.6 732.7 560.0 733.4 558.6C734.1 557.3 736.0 553.9 736.7 553.3C737.5 552.6 740.1 552.7 740.9 552.3C741.8 551.8 744.4 548.5 745.1 548.6C745.8 548.6 747.0 551.8 747.6 552.8C748.2 553.8 750.3 557.6 751.0 558.6C751.6 559.7 753.7 562.8 754.3 563.7C755.0 564.5 756.9 567.0 757.7 567.3C758.4 567.7 761.1 566.8 761.9 567.0C762.6 567.2 764.5 568.9 765.2 569.5C765.9 570.1 767.9 572.1 768.6 572.9C769.2 573.6 771.2 576.4 771.9 577.1C772.6 577.8 774.6 579.6 775.2 579.9C775.9 580.2 777.9 579.9 778.6 579.9C779.3 579.9 781.3 580.0 781.9 579.6C782.6 579.1 784.7 576.6 785.3 575.4C785.9 574.2 787.2 569.4 787.8 567.8C788.4 566.3 790.4 561.6 791.2 560.3C791.9 559.1 794.6 556.5 795.3 555.3C796.1 554.0 798.0 549.2 798.7 547.8C799.4 546.3 801.4 542.0 802.0 541.1C802.7 540.1 804.8 538.1 805.4 538.2C805.9 538.3 807.0 540.9 807.4 541.9C807.8 542.9 809.1 547.4 809.6 548.6C810.0 549.8 811.5 552.9 812.1 553.6C812.7 554.3 814.6 555.1 815.4 555.3C816.3 555.5 819.6 556.0 820.5 555.8C821.3 555.6 823.1 554.1 823.8 553.3C824.5 552.5 826.5 549.0 827.1 547.8C827.8 546.5 829.7 542.3 830.5 541.1C831.2 539.8 833.9 536.5 834.7 535.2C835.4 533.9 837.4 529.0 838.0 527.7C838.7 526.3 840.7 522.6 841.4 521.8C842.0 521.1 844.1 520.2 844.7 520.1C845.4 520.1 847.4 520.9 848.1 521.5C848.7 522.1 850.8 525.2 851.4 526.0C852.1 526.8 854.2 529.8 854.8 529.8C855.4 529.9 856.8 527.6 857.3 526.8C857.8 526.0 859.3 522.5 859.8 521.8C860.3 521.1 861.8 519.8 862.3 519.8C862.8 519.8 864.2 521.4 864.8 521.8C865.4 522.2 867.5 523.2 868.2 523.5C868.8 523.7 870.8 524.0 871.5 524.3C872.2 524.7 874.1 526.2 874.9 526.8C875.6 527.5 878.1 530.4 879.0 531.0C880.0 531.7 883.1 533.3 884.1 533.2C885.0 533.1 887.5 530.7 888.3 530.2C889.0 529.7 891.0 528.2 891.6 528.2C892.2 528.2 893.5 529.5 894.1 530.2C894.7 530.9 896.9 534.4 897.5 535.2C898.1 536.0 899.5 537.0 900.0 537.7C900.5 538.4 902.0 540.8 902.5 541.9C903.0 543.0 904.5 547.3 905.0 548.6C905.5 549.9 907.0 554.3 907.5 555.3C908.0 556.3 909.5 557.9 910.0 558.3C910.5 558.7 911.9 559.5 912.6 559.5C913.2 559.5 916.0 558.7 916.7 558.3C917.5 557.9 919.4 556.1 920.1 555.3C920.8 554.5 922.9 550.6 923.4 549.9C924.0 549.3 925.4 548.9 925.9 548.9C926.5 549.0 928.0 549.8 928.5 550.3C929.0 550.7 930.4 552.9 931.0 553.6C931.6 554.3 933.6 557.0 934.3 557.3C935.1 557.6 937.7 556.8 938.5 556.6C939.3 556.5 941.9 556.2 942.7 555.6C943.4 555.1 945.4 552.1 946.0 551.1C946.7 550.2 948.8 546.7 949.4 546.1C950.0 545.5 951.4 544.7 951.9 544.9C952.4 545.1 953.5 547.0 953.9 547.8C954.3 548.5 955.6 551.9 956.1 552.8C956.6 553.6 958.0 555.5 958.6 556.1C959.2 556.7 961.3 557.9 961.9 558.6C962.6 559.4 964.6 563.2 965.3 563.7C966.0 564.2 968.1 563.5 968.6 563.7C969.2 563.8 970.6 564.9 971.2 565.3C971.7 565.8 973.8 567.5 974.5 567.8C975.2 568.2 977.3 568.5 977.8 568.4C978.4 568.2 979.9 566.6 980.4 566.2C980.8 565.8 982.3 564.7 982.5 564.5" stroke="#131722" stroke-width="1.9" fill="none" stroke-linejoin="round" stroke-linecap="round"/>
</g>
<g fill="none" stroke="#9c27b0" stroke-width="1.8" stroke-linecap="round">
<path d="M991.4 323.4A9.6 9.6 0 1 1 985.2 317.2"/>
</g>
<path d="M985.0 321.4L977.6 327.2H981.8L979.0 331.8L986.8 325.8H982.6Z" fill="#9c27b0" stroke="#9c27b0" stroke-width="0.4" stroke-linejoin="round"/>
<circle cx="989.2" cy="319.6" r="2.5" fill="#f23645"/>
<text y="19.7" font-size="12.40" fill="#2e2e2e" stroke-width="0.25"><tspan x="10.8" textLength="53.5" lengthAdjust="spacingAndGlyphs" stroke="#2e2e2e">FxWirePro</tspan> <tspan x="68.1" textLength="41.2" lengthAdjust="spacingAndGlyphs" stroke="#2e2e2e">created</tspan> <tspan x="113.8" textLength="22.8" lengthAdjust="spacingAndGlyphs" stroke="#2e2e2e">with</tspan> <tspan x="140.7" textLength="93.2" lengthAdjust="spacingAndGlyphs" stroke="#2e2e2e">TradingView.com,</tspan> <tspan x="239.3" textLength="19.7" lengthAdjust="spacingAndGlyphs" stroke="#2e2e2e">Aug</tspan> <tspan x="263.5" textLength="14.3" lengthAdjust="spacingAndGlyphs" stroke="#2e2e2e">18,</tspan> <tspan x="283.2" textLength="24.5" lengthAdjust="spacingAndGlyphs" stroke="#2e2e2e">2025</tspan> <tspan x="311.9" textLength="29.5" lengthAdjust="spacingAndGlyphs" stroke="#2e2e2e">03:24</tspan> <tspan x="345.6" textLength="20.9" lengthAdjust="spacingAndGlyphs" stroke="#2e2e2e">UTC</tspan></text>
<text x="1074.2" y="62.2" font-size="13.30" fill="#131722" textLength="45.8" lengthAdjust="spacingAndGlyphs" stroke="#131722" stroke-width="0.25">3,500.00</text>
<text x="1074.2" y="104.1" font-size="13.30" fill="#131722" textLength="45.8" lengthAdjust="spacingAndGlyphs" stroke="#131722" stroke-width="0.25">3,400.00</text>
<text x="1074.2" y="187.9" font-size="13.30" fill="#131722" textLength="45.8" lengthAdjust="spacingAndGlyphs" stroke="#131722" stroke-width="0.25">3,200.00</text>
<text x="1074.2" y="229.8" font-size="13.30" fill="#131722" textLength="45.8" lengthAdjust="spacingAndGlyphs" stroke="#131722" stroke-width="0.25">3,100.00</text>
<text x="1074.2" y="271.7" font-size="13.30" fill="#131722" textLength="45.8" lengthAdjust="spacingAndGlyphs" stroke="#131722" stroke-width="0.25">3,000.00</text>
<text x="1074.2" y="313.6" font-size="13.30" fill="#131722" textLength="45.8" lengthAdjust="spacingAndGlyphs" stroke="#131722" stroke-width="0.25">2,900.00</text>
<text x="1074.2" y="372.5" font-size="13.30" fill="#131722" textLength="36.1" lengthAdjust="spacingAndGlyphs" stroke="#131722" stroke-width="0.25">200.00</text>
<text x="1074.2" y="414.1" font-size="13.30" fill="#131722" textLength="23.4" lengthAdjust="spacingAndGlyphs" stroke="#131722" stroke-width="0.25">0.00</text>
<text x="1074.2" y="455.8" font-size="13.30" fill="#131722" textLength="42.4" lengthAdjust="spacingAndGlyphs" stroke="#131722" stroke-width="0.25">−200.00</text>
<text x="1074.2" y="482.0" font-size="13.30" fill="#131722" textLength="41.1" lengthAdjust="spacingAndGlyphs" stroke="#131722" stroke-width="0.25">60.0000</text>
<text x="1074.2" y="525.2" font-size="13.30" fill="#131722" textLength="41.1" lengthAdjust="spacingAndGlyphs" stroke="#131722" stroke-width="0.25">40.0000</text>
<text x="1074.2" y="568.4" font-size="13.30" fill="#131722" textLength="41.1" lengthAdjust="spacingAndGlyphs" stroke="#131722" stroke-width="0.25">20.0000</text>
<rect x="1066" y="28" width="50" height="32.5" fill="#fff"/>
<rect x="1068.9" y="31.3" width="60" height="25.3" rx="4" fill="#fff" stroke="#ebecef" stroke-width="1.2"/>
<text x="1078.3" y="48.3" font-size="13.30" fill="#131722" textLength="20.7" lengthAdjust="spacingAndGlyphs" stroke="#131722" stroke-width="0.3">USD</text>
<path d="M1016.1 114.4H1064.8V130.7H1016.1A2 2 0 0 1 1014.1 128.7V116.4A2 2 0 0 1 1016.1 114.4Z" fill="#f23645"/>
<text x="1017.9" y="126.7" font-size="13.20" fill="#fff" textLength="42.2" lengthAdjust="spacingAndGlyphs">XAUUSD</text>
<rect x="1066" y="114.4" width="60" height="30.8" fill="#f23645"/>
<text x="1074.2" y="126.5" font-size="13.30" fill="#fff" textLength="45.8" lengthAdjust="spacingAndGlyphs">3,346.70</text>
<text x="1074.2" y="140.1" font-size="13.30" fill="#fff" textLength="45.8" lengthAdjust="spacingAndGlyphs" fill-opacity="0.85">02:35:08</text>
<rect x="1066" y="147.1" width="60" height="16.6" fill="#5e35b1"/>
<text x="1074.2" y="159.3" font-size="13.30" fill="#fff" textLength="45.8" lengthAdjust="spacingAndGlyphs">3,270.03</text>
<clipPath id="cl"><rect x="10.2" y="600" width="1105" height="39"/></clipPath>
<g clip-path="url(#cl)">
<text x="1.2" y="624.7" font-size="13.40" fill="#131722" font-weight="bold" textLength="20.8" lengthAdjust="spacingAndGlyphs">Apr</text>
</g>
<text x="209.5" y="624.7" font-size="13.40" fill="#131722" font-weight="bold" textLength="21.4" lengthAdjust="spacingAndGlyphs">May</text>
<text x="427.7" y="624.7" font-size="13.40" fill="#131722" font-weight="bold" textLength="18.6" lengthAdjust="spacingAndGlyphs">Jun</text>
<text x="638.2" y="624.7" font-size="13.40" fill="#131722" font-weight="bold" textLength="16.6" lengthAdjust="spacingAndGlyphs">Jul</text>
<text x="863.4" y="624.7" font-size="13.40" fill="#131722" font-weight="bold" textLength="20.6" lengthAdjust="spacingAndGlyphs">Aug</text>
</svg>
</body></html>
